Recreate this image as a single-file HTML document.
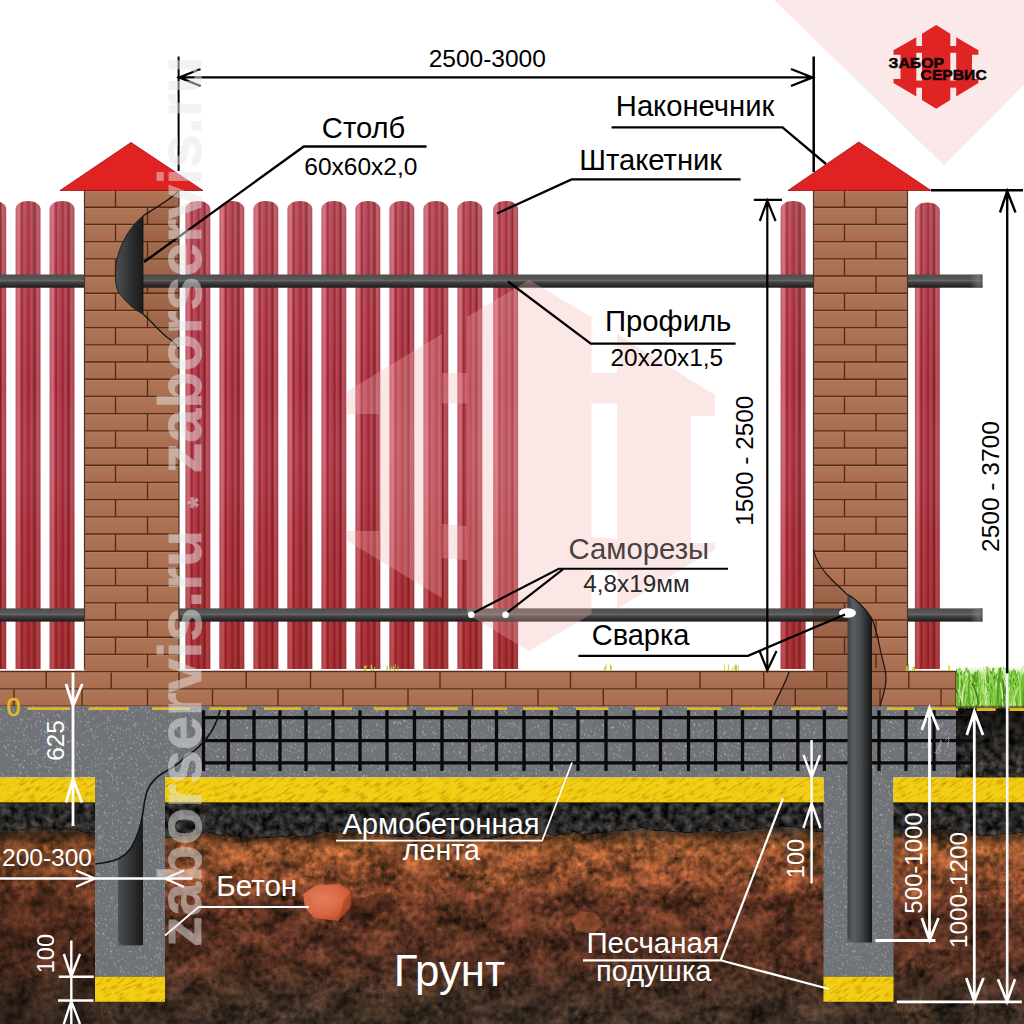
<!DOCTYPE html>
<html lang="ru"><head><meta charset="utf-8"><title>Забор из штакетника — схема</title><style>html,body{margin:0;padding:0;background:#fff;overflow:hidden}svg{display:block}</style></head><body><svg width="1024" height="1024" viewBox="0 0 1024 1024"><defs>
<linearGradient id="pk" x1="0" x2="1" y1="0" y2="0">
 <stop offset="0" stop-color="#b45465"/>
 <stop offset="0.06" stop-color="#c55d6d"/>
 <stop offset="0.14" stop-color="#d96b7a"/>
 <stop offset="0.21" stop-color="#b03c4b"/>
 <stop offset="0.26" stop-color="#8c1c2a"/>
 <stop offset="0.33" stop-color="#c14556"/>
 <stop offset="0.45" stop-color="#aa3747"/>
 <stop offset="0.54" stop-color="#93232f"/>
 <stop offset="0.62" stop-color="#c04556"/>
 <stop offset="0.70" stop-color="#9c3842"/>
 <stop offset="0.78" stop-color="#7e1c26"/>
 <stop offset="0.85" stop-color="#c0505c"/>
 <stop offset="0.95" stop-color="#b04656"/>
 <stop offset="1" stop-color="#9c3c4c"/>
</linearGradient>
<linearGradient id="pkv" x1="0" x2="0" y1="0" y2="1">
 <stop offset="0" stop-color="#ffffff" stop-opacity="0.10"/>
 <stop offset="0.4" stop-color="#ffffff" stop-opacity="0"/>
 <stop offset="0.7" stop-color="#8a1a08" stop-opacity="0.12"/>
 <stop offset="1" stop-color="#8a1a08" stop-opacity="0.34"/>
</linearGradient>
<linearGradient id="rail" x1="0" x2="0" y1="0" y2="1">
 <stop offset="0" stop-color="#4c4c4c"/>
 <stop offset="0.38" stop-color="#5a5a5a"/>
 <stop offset="0.47" stop-color="#6a6a6a"/>
 <stop offset="0.56" stop-color="#464646"/>
 <stop offset="0.8" stop-color="#2e2e2e"/>
 <stop offset="1" stop-color="#1a1a1a"/>
</linearGradient>
<linearGradient id="railend" x1="0" x2="1" y1="0" y2="0">
 <stop offset="0" stop-color="#8a8a8a" stop-opacity="0"/>
 <stop offset="0.7" stop-color="#8a8a8a" stop-opacity="0.55"/>
 <stop offset="1" stop-color="#606060" stop-opacity="0.5"/>
</linearGradient>
<linearGradient id="post" x1="0" x2="1" y1="0" y2="0">
 <stop offset="0" stop-color="#3c3f41"/>
 <stop offset="0.25" stop-color="#5b5e60"/>
 <stop offset="0.55" stop-color="#45484a"/>
 <stop offset="0.85" stop-color="#242526"/>
 <stop offset="1" stop-color="#161717"/>
</linearGradient>
<linearGradient id="postL" x1="0" x2="1" y1="0" y2="0">
 <stop offset="0" stop-color="#4d5052"/>
 <stop offset="0.35" stop-color="#3a3c3e"/>
 <stop offset="0.8" stop-color="#222324"/>
 <stop offset="1" stop-color="#1a1b1b"/>
</linearGradient>
<linearGradient id="brk" x1="0" x2="0" y1="0" y2="1">
 <stop offset="0" stop-color="#b8896a"/>
 <stop offset="0.13" stop-color="#ad7557"/>
 <stop offset="0.85" stop-color="#aa6e50"/>
 <stop offset="1" stop-color="#a86c4c"/>
</linearGradient>
<linearGradient id="soil" x1="0" x2="0" y1="803" y2="1024" gradientUnits="userSpaceOnUse">
 <stop offset="0" stop-color="#262524"/>
 <stop offset="0.11" stop-color="#2c2a28"/>
 <stop offset="0.15" stop-color="#5a3820"/>
 <stop offset="0.19" stop-color="#8e522c"/>
 <stop offset="0.36" stop-color="#884a2c"/>
 <stop offset="0.46" stop-color="#643624"/>
 <stop offset="0.72" stop-color="#543022"/>
 <stop offset="0.86" stop-color="#443024"/>
 <stop offset="1" stop-color="#3a2e24"/>
</linearGradient>
<linearGradient id="soilL" x1="0" x2="1" y1="0" y2="0">
 <stop offset="0" stop-color="#1a0e08" stop-opacity="0.30"/>
 <stop offset="1" stop-color="#1a0e08" stop-opacity="0"/>
</linearGradient>
<radialGradient id="stone" cx="0.4" cy="0.4" r="0.7">
 <stop offset="0" stop-color="#ee8462"/>
 <stop offset="0.6" stop-color="#e06a44"/>
 <stop offset="1" stop-color="#b84a28"/>
</radialGradient>
<linearGradient id="dk" x1="0" x2="0" y1="0" y2="1">
 <stop offset="0" stop-color="#0c0a08" stop-opacity="0.75"/>
 <stop offset="0.45" stop-color="#0c0a08" stop-opacity="0.45"/>
 <stop offset="1" stop-color="#0c0a08" stop-opacity="0"/>
</linearGradient>
<linearGradient id="grassg" x1="0" x2="0" y1="0" y2="1">
 <stop offset="0" stop-color="#9ad65a" stop-opacity="0"/>
 <stop offset="0.2" stop-color="#8ad048" stop-opacity="0.55"/>
 <stop offset="0.38" stop-color="#7cc63c" stop-opacity="1"/>
 <stop offset="0.75" stop-color="#62b02a"/>
 <stop offset="1" stop-color="#4c8a20"/>
</linearGradient>
<filter id="fsoil" x="0" y="0" width="100%" height="100%" color-interpolation-filters="sRGB">
 <feTurbulence type="fractalNoise" baseFrequency="0.03 0.045" numOctaves="3" seed="11" result="n1"/>
 <feTurbulence type="fractalNoise" baseFrequency="0.16" numOctaves="3" seed="4" result="n2"/>
 <feComposite in="n1" in2="n2" operator="arithmetic" k1="0" k2="0.55" k3="0.45" k4="0" result="n"/>
 <feColorMatrix in="n" type="matrix" values="1 0 0 0 0  0.94 0.06 0 0 0  0.92 0 0.08 0 0  0 0 0 0 1" result="g"/>
 <feComposite in="SourceGraphic" in2="g" operator="arithmetic" k1="2.6" k2="-0.32" k3="0" k4="0"/>
</filter>
<filter id="fdark" x="0" y="0" width="100%" height="100%" color-interpolation-filters="sRGB">
 <feTurbulence type="fractalNoise" baseFrequency="0.13" numOctaves="4" seed="5" result="n"/>
 <feColorMatrix in="n" type="matrix" values="1 0 0 0 0  1 0 0 0 0  1 0 0 0 0  0 0 0 0 1" result="g"/>
 <feComposite in="SourceGraphic" in2="g" operator="arithmetic" k1="3.6" k2="-0.7" k3="0" k4="0"/>
</filter>
<filter id="fspeck" x="0" y="0" width="100%" height="100%" color-interpolation-filters="sRGB">
 <feTurbulence type="fractalNoise" baseFrequency="0.95 0.32" numOctaves="3" seed="3" stitchTiles="stitch" result="n"/>
 <feColorMatrix in="n" type="matrix" values="0 0 0 0 1  0 0 0 0 1  0 0 0 0 1  7 0 0 0 -4.35"/>
</filter>
<filter id="fsand" x="0" y="0" width="100%" height="100%" color-interpolation-filters="sRGB">
 <feTurbulence type="fractalNoise" baseFrequency="0.1 0.5" numOctaves="2" seed="8" stitchTiles="stitch" result="n"/>
 <feColorMatrix in="n" type="matrix" values="0 0 0 0 0.80  0 0 0 0 0.60  0 0 0 0 0.03  3.6 0 0 0 -1.85"/>
</filter>
<pattern id="psand" width="200" height="200" patternUnits="userSpaceOnUse" patternTransform="rotate(-32)"><rect width="200" height="200" fill="#000" filter="url(#fsand)"/></pattern>
<pattern id="pspeck" width="200" height="200" patternUnits="userSpaceOnUse" patternTransform="rotate(-27)"><rect width="200" height="200" fill="#fff" filter="url(#fspeck)"/></pattern>
<clipPath id="csand"><path d="M0 777.5H95V802.8H0Z M165 777.5H823.5V802.8H165Z M893.5 777.5H1024V802.8H893.5Z M95 976.8H165V1001.8H95Z M823.5 976.8H893.5V1001.8H823.5Z"/></clipPath>
<clipPath id="cconc"><path d="M0 706H956V777.5H893.5V976.8H823.5V777.5H165V976.8H95V777.5H0Z"/></clipPath>
<g id="logo">
 <path d="M916.3 37.3L893.5 50.2V54.8H900.5V78.9H893.5V83L916.3 96.4Z"/>
 <path d="M922 33.7L936.2 25L950.3 33.7V100L936.2 108.8L922 100Z"/>
 <path d="M956.2 37.3L978.4 50.2V54.8H972V78.9H978.4V83L956.2 96.4Z"/>
 <rect x="915" y="46" width="43" height="6.8"/>
 <rect x="915" y="80.6" width="43" height="7.1"/>
</g>
</defs>
<rect width="1024" height="1024" fill="#ffffff"/>
<path d="M774 0L944 165.5L1024 85V0Z" fill="#fbe9e9"/>
<path d="M-18.70 669.0V209.50C-18.70 203.97 -13.10 201.00 -6.25 201.00C0.60 201.00 6.20 203.97 6.20 209.50V669.0Z" fill="url(#pk)"/>
<path d="M-18.70 669.0V209.50C-18.70 203.97 -13.10 201.00 -6.25 201.00C0.60 201.00 6.20 203.97 6.20 209.50V669.0Z" fill="url(#pkv)"/>
<path d="M15.60 669.0V209.50C15.60 203.97 21.20 201.00 28.05 201.00C34.90 201.00 40.50 203.97 40.50 209.50V669.0Z" fill="url(#pk)"/>
<path d="M15.60 669.0V209.50C15.60 203.97 21.20 201.00 28.05 201.00C34.90 201.00 40.50 203.97 40.50 209.50V669.0Z" fill="url(#pkv)"/>
<path d="M49.60 669.0V209.50C49.60 203.97 55.20 201.00 62.05 201.00C68.90 201.00 74.50 203.97 74.50 209.50V669.0Z" fill="url(#pk)"/>
<path d="M49.60 669.0V209.50C49.60 203.97 55.20 201.00 62.05 201.00C68.90 201.00 74.50 203.97 74.50 209.50V669.0Z" fill="url(#pkv)"/>
<path d="M185.40 669.0V209.50C185.40 203.97 191.00 201.00 197.85 201.00C204.70 201.00 210.30 203.97 210.30 209.50V669.0Z" fill="url(#pk)"/>
<path d="M185.40 669.0V209.50C185.40 203.97 191.00 201.00 197.85 201.00C204.70 201.00 210.30 203.97 210.30 209.50V669.0Z" fill="url(#pkv)"/>
<path d="M219.40 669.0V209.50C219.40 203.97 225.00 201.00 231.85 201.00C238.70 201.00 244.30 203.97 244.30 209.50V669.0Z" fill="url(#pk)"/>
<path d="M219.40 669.0V209.50C219.40 203.97 225.00 201.00 231.85 201.00C238.70 201.00 244.30 203.97 244.30 209.50V669.0Z" fill="url(#pkv)"/>
<path d="M253.40 669.0V209.50C253.40 203.97 259.00 201.00 265.85 201.00C272.70 201.00 278.30 203.97 278.30 209.50V669.0Z" fill="url(#pk)"/>
<path d="M253.40 669.0V209.50C253.40 203.97 259.00 201.00 265.85 201.00C272.70 201.00 278.30 203.97 278.30 209.50V669.0Z" fill="url(#pkv)"/>
<path d="M287.40 669.0V209.50C287.40 203.97 293.00 201.00 299.85 201.00C306.70 201.00 312.30 203.97 312.30 209.50V669.0Z" fill="url(#pk)"/>
<path d="M287.40 669.0V209.50C287.40 203.97 293.00 201.00 299.85 201.00C306.70 201.00 312.30 203.97 312.30 209.50V669.0Z" fill="url(#pkv)"/>
<path d="M321.40 669.0V209.50C321.40 203.97 327.00 201.00 333.85 201.00C340.70 201.00 346.30 203.97 346.30 209.50V669.0Z" fill="url(#pk)"/>
<path d="M321.40 669.0V209.50C321.40 203.97 327.00 201.00 333.85 201.00C340.70 201.00 346.30 203.97 346.30 209.50V669.0Z" fill="url(#pkv)"/>
<path d="M355.40 669.0V209.50C355.40 203.97 361.00 201.00 367.85 201.00C374.70 201.00 380.30 203.97 380.30 209.50V669.0Z" fill="url(#pk)"/>
<path d="M355.40 669.0V209.50C355.40 203.97 361.00 201.00 367.85 201.00C374.70 201.00 380.30 203.97 380.30 209.50V669.0Z" fill="url(#pkv)"/>
<path d="M389.40 669.0V209.50C389.40 203.97 395.00 201.00 401.85 201.00C408.70 201.00 414.30 203.97 414.30 209.50V669.0Z" fill="url(#pk)"/>
<path d="M389.40 669.0V209.50C389.40 203.97 395.00 201.00 401.85 201.00C408.70 201.00 414.30 203.97 414.30 209.50V669.0Z" fill="url(#pkv)"/>
<path d="M423.40 669.0V209.50C423.40 203.97 429.00 201.00 435.85 201.00C442.70 201.00 448.30 203.97 448.30 209.50V669.0Z" fill="url(#pk)"/>
<path d="M423.40 669.0V209.50C423.40 203.97 429.00 201.00 435.85 201.00C442.70 201.00 448.30 203.97 448.30 209.50V669.0Z" fill="url(#pkv)"/>
<path d="M457.40 669.0V209.50C457.40 203.97 463.00 201.00 469.85 201.00C476.70 201.00 482.30 203.97 482.30 209.50V669.0Z" fill="url(#pk)"/>
<path d="M457.40 669.0V209.50C457.40 203.97 463.00 201.00 469.85 201.00C476.70 201.00 482.30 203.97 482.30 209.50V669.0Z" fill="url(#pkv)"/>
<path d="M493.20 669.0V209.50C493.20 203.97 498.80 201.00 505.65 201.00C512.50 201.00 518.10 203.97 518.10 209.50V669.0Z" fill="url(#pk)"/>
<path d="M493.20 669.0V209.50C493.20 203.97 498.80 201.00 505.65 201.00C512.50 201.00 518.10 203.97 518.10 209.50V669.0Z" fill="url(#pkv)"/>
<path d="M780.60 669.0V209.50C780.60 203.97 786.20 201.00 793.05 201.00C799.90 201.00 805.50 203.97 805.50 209.50V669.0Z" fill="url(#pk)"/>
<path d="M780.60 669.0V209.50C780.60 203.97 786.20 201.00 793.05 201.00C799.90 201.00 805.50 203.97 805.50 209.50V669.0Z" fill="url(#pkv)"/>
<path d="M914.90 669.0V211.00C914.90 205.47 920.50 202.50 927.35 202.50C934.20 202.50 939.80 205.47 939.80 211.00V669.0Z" fill="url(#pk)"/>
<path d="M914.90 669.0V211.00C914.90 205.47 920.50 202.50 927.35 202.50C934.20 202.50 939.80 205.47 939.80 211.00V669.0Z" fill="url(#pkv)"/>
<rect x="0" y="274.5" width="982.5" height="13.2" fill="url(#rail)"/>
<rect x="0" y="608.4" width="982.5" height="13.2" fill="url(#rail)"/>
<rect x="970" y="274.5" width="12.5" height="13.2" fill="url(#railend)"/>
<rect x="970" y="608.4" width="12.5" height="13.2" fill="url(#railend)"/>
<g fill="#f8b2b2" opacity="0.30"><path d="M467 317L529 280L591.5 317V614L529 651L467 614Z"/><path d="M442 334L346 392V414H379V531H346V540L442 598Z"/><path d="M617 334L715 395V416H691V543H715V549L617 609Z"/><path d="M442 373H617V403.5H442Z"/><path d="M442 524L617 539V572L442 558Z"/></g>
<rect x="84.5" y="190.0" width="94.5" height="481.0" fill="#aa6e50"/>
<rect x="84.5" y="190.00" width="94.5" height="17.20" fill="url(#brk)"/>
<rect x="84.5" y="207.20" width="94.5" height="17.20" fill="url(#brk)"/>
<rect x="84.5" y="224.40" width="94.5" height="17.20" fill="url(#brk)"/>
<rect x="84.5" y="241.60" width="94.5" height="17.20" fill="url(#brk)"/>
<rect x="84.5" y="258.80" width="94.5" height="17.20" fill="url(#brk)"/>
<rect x="84.5" y="276.00" width="94.5" height="17.20" fill="url(#brk)"/>
<rect x="84.5" y="293.20" width="94.5" height="17.20" fill="url(#brk)"/>
<rect x="84.5" y="310.40" width="94.5" height="17.20" fill="url(#brk)"/>
<rect x="84.5" y="327.60" width="94.5" height="17.20" fill="url(#brk)"/>
<rect x="84.5" y="344.80" width="94.5" height="17.20" fill="url(#brk)"/>
<rect x="84.5" y="362.00" width="94.5" height="17.20" fill="url(#brk)"/>
<rect x="84.5" y="379.20" width="94.5" height="17.20" fill="url(#brk)"/>
<rect x="84.5" y="396.40" width="94.5" height="17.20" fill="url(#brk)"/>
<rect x="84.5" y="413.60" width="94.5" height="17.20" fill="url(#brk)"/>
<rect x="84.5" y="430.80" width="94.5" height="17.20" fill="url(#brk)"/>
<rect x="84.5" y="448.00" width="94.5" height="17.20" fill="url(#brk)"/>
<rect x="84.5" y="465.20" width="94.5" height="17.20" fill="url(#brk)"/>
<rect x="84.5" y="482.40" width="94.5" height="17.20" fill="url(#brk)"/>
<rect x="84.5" y="499.60" width="94.5" height="17.20" fill="url(#brk)"/>
<rect x="84.5" y="516.80" width="94.5" height="17.20" fill="url(#brk)"/>
<rect x="84.5" y="534.00" width="94.5" height="17.20" fill="url(#brk)"/>
<rect x="84.5" y="551.20" width="94.5" height="17.20" fill="url(#brk)"/>
<rect x="84.5" y="568.40" width="94.5" height="17.20" fill="url(#brk)"/>
<rect x="84.5" y="585.60" width="94.5" height="17.20" fill="url(#brk)"/>
<rect x="84.5" y="602.80" width="94.5" height="17.20" fill="url(#brk)"/>
<rect x="84.5" y="620.00" width="94.5" height="17.20" fill="url(#brk)"/>
<rect x="84.5" y="637.20" width="94.5" height="17.20" fill="url(#brk)"/>
<rect x="84.5" y="654.40" width="94.5" height="16.60" fill="url(#brk)"/>
<path d="M84.5 190.00H179.0M84.5 207.20H179.0M84.5 224.40H179.0M84.5 241.60H179.0M84.5 258.80H179.0M84.5 276.00H179.0M84.5 293.20H179.0M84.5 310.40H179.0M84.5 327.60H179.0M84.5 344.80H179.0M84.5 362.00H179.0M84.5 379.20H179.0M84.5 396.40H179.0M84.5 413.60H179.0M84.5 430.80H179.0M84.5 448.00H179.0M84.5 465.20H179.0M84.5 482.40H179.0M84.5 499.60H179.0M84.5 516.80H179.0M84.5 534.00H179.0M84.5 551.20H179.0M84.5 568.40H179.0M84.5 585.60H179.0M84.5 602.80H179.0M84.5 620.00H179.0M84.5 637.20H179.0M84.5 654.40H179.0M115.50 190.00v17.20M147.50 207.20v17.20M115.50 224.40v17.20M147.50 241.60v17.20M115.50 258.80v17.20M147.50 276.00v17.20M115.50 293.20v17.20M147.50 310.40v17.20M115.50 327.60v17.20M147.50 344.80v17.20M115.50 362.00v17.20M147.50 379.20v17.20M115.50 396.40v17.20M147.50 413.60v17.20M115.50 430.80v17.20M147.50 448.00v17.20M115.50 465.20v17.20M147.50 482.40v17.20M115.50 499.60v17.20M147.50 516.80v17.20M115.50 534.00v17.20M147.50 551.20v17.20M115.50 568.40v17.20M147.50 585.60v17.20M115.50 602.80v17.20M147.50 620.00v17.20M115.50 637.20v17.20M147.50 654.40v16.60" stroke="#5a2a14" stroke-width="1.35" fill="none"/>
<path d="M84.5 190.0V671.0M179.0 190.0V671.0" stroke="#4a352c" stroke-width="1.2" fill="none"/>
<rect x="813.5" y="190.0" width="94.0" height="481.0" fill="#aa6e50"/>
<rect x="813.5" y="190.00" width="94.0" height="17.20" fill="url(#brk)"/>
<rect x="813.5" y="207.20" width="94.0" height="17.20" fill="url(#brk)"/>
<rect x="813.5" y="224.40" width="94.0" height="17.20" fill="url(#brk)"/>
<rect x="813.5" y="241.60" width="94.0" height="17.20" fill="url(#brk)"/>
<rect x="813.5" y="258.80" width="94.0" height="17.20" fill="url(#brk)"/>
<rect x="813.5" y="276.00" width="94.0" height="17.20" fill="url(#brk)"/>
<rect x="813.5" y="293.20" width="94.0" height="17.20" fill="url(#brk)"/>
<rect x="813.5" y="310.40" width="94.0" height="17.20" fill="url(#brk)"/>
<rect x="813.5" y="327.60" width="94.0" height="17.20" fill="url(#brk)"/>
<rect x="813.5" y="344.80" width="94.0" height="17.20" fill="url(#brk)"/>
<rect x="813.5" y="362.00" width="94.0" height="17.20" fill="url(#brk)"/>
<rect x="813.5" y="379.20" width="94.0" height="17.20" fill="url(#brk)"/>
<rect x="813.5" y="396.40" width="94.0" height="17.20" fill="url(#brk)"/>
<rect x="813.5" y="413.60" width="94.0" height="17.20" fill="url(#brk)"/>
<rect x="813.5" y="430.80" width="94.0" height="17.20" fill="url(#brk)"/>
<rect x="813.5" y="448.00" width="94.0" height="17.20" fill="url(#brk)"/>
<rect x="813.5" y="465.20" width="94.0" height="17.20" fill="url(#brk)"/>
<rect x="813.5" y="482.40" width="94.0" height="17.20" fill="url(#brk)"/>
<rect x="813.5" y="499.60" width="94.0" height="17.20" fill="url(#brk)"/>
<rect x="813.5" y="516.80" width="94.0" height="17.20" fill="url(#brk)"/>
<rect x="813.5" y="534.00" width="94.0" height="17.20" fill="url(#brk)"/>
<rect x="813.5" y="551.20" width="94.0" height="17.20" fill="url(#brk)"/>
<rect x="813.5" y="568.40" width="94.0" height="17.20" fill="url(#brk)"/>
<rect x="813.5" y="585.60" width="94.0" height="17.20" fill="url(#brk)"/>
<rect x="813.5" y="602.80" width="94.0" height="17.20" fill="url(#brk)"/>
<rect x="813.5" y="620.00" width="94.0" height="17.20" fill="url(#brk)"/>
<rect x="813.5" y="637.20" width="94.0" height="17.20" fill="url(#brk)"/>
<rect x="813.5" y="654.40" width="94.0" height="16.60" fill="url(#brk)"/>
<path d="M813.5 190.00H907.5M813.5 207.20H907.5M813.5 224.40H907.5M813.5 241.60H907.5M813.5 258.80H907.5M813.5 276.00H907.5M813.5 293.20H907.5M813.5 310.40H907.5M813.5 327.60H907.5M813.5 344.80H907.5M813.5 362.00H907.5M813.5 379.20H907.5M813.5 396.40H907.5M813.5 413.60H907.5M813.5 430.80H907.5M813.5 448.00H907.5M813.5 465.20H907.5M813.5 482.40H907.5M813.5 499.60H907.5M813.5 516.80H907.5M813.5 534.00H907.5M813.5 551.20H907.5M813.5 568.40H907.5M813.5 585.60H907.5M813.5 602.80H907.5M813.5 620.00H907.5M813.5 637.20H907.5M813.5 654.40H907.5M844.50 190.00v17.20M876.00 207.20v17.20M844.50 224.40v17.20M876.00 241.60v17.20M844.50 258.80v17.20M876.00 276.00v17.20M844.50 293.20v17.20M876.00 310.40v17.20M844.50 327.60v17.20M876.00 344.80v17.20M844.50 362.00v17.20M876.00 379.20v17.20M844.50 396.40v17.20M876.00 413.60v17.20M844.50 430.80v17.20M876.00 448.00v17.20M844.50 465.20v17.20M876.00 482.40v17.20M844.50 499.60v17.20M876.00 516.80v17.20M844.50 534.00v17.20M876.00 551.20v17.20M844.50 568.40v17.20M876.00 585.60v17.20M844.50 602.80v17.20M876.00 620.00v17.20M844.50 637.20v17.20M876.00 654.40v16.60" stroke="#5a2a14" stroke-width="1.35" fill="none"/>
<path d="M813.5 190.0V671.0M907.5 190.0V671.0" stroke="#4a352c" stroke-width="1.2" fill="none"/>
<rect x="143" y="274.5" width="37" height="13.2" fill="url(#rail)"/>
<rect x="813" y="608.4" width="36" height="13.2" fill="url(#rail)"/>
<path d="M178.5 191C170 200 158 206 143 216V314C152 322 160 332 168 338C173 341 176 345 178.5 349Z" fill="#3a1404" opacity="0.10"/>
<path d="M143 216C128 228 116 250 115.5 272C115 284 117 290 119 293C126 302 134 310 143 314Z" fill="url(#postL)" stroke="#111" stroke-width="0.8"/>
<path d="M178.5 191C170 200 158 206 143 216" stroke="#141414" stroke-width="1.2" fill="none"/>
<path d="M143 314C152 322 160 332 168 338C173 341 176 345 178.5 349" stroke="#141414" stroke-width="1.2" fill="none"/>
<path d="M60 190.5L131 142.5L203 190.5Z" fill="#e02222" stroke="#9c1010" stroke-width="0.8"/>
<path d="M788 190.5L858.8 142L931 190.5Z" fill="#e02222" stroke="#9c1010" stroke-width="0.8"/>
<rect x="0" y="670" width="956" height="2" fill="#ffffff"/>
<rect x="0" y="671.5" width="956" height="17.3" fill="url(#brk)"/>
<rect x="0" y="688.8" width="956" height="17.4" fill="url(#brk)"/>
<path d="M0 671.5H956M0 688.8H956M0 706.2H956M956 671.5V706.2M46.2 671.5V688.8M111.2 671.5V688.8M179.0 671.5V688.8M246.2 671.5V688.8M310.5 671.5V688.8M375.5 671.5V688.8M440.0 671.5V688.8M505.6 671.5V688.8M570.5 671.5V688.8M636.0 671.5V688.8M700.0 671.5V688.8M763.8 671.5V688.8M826.7 671.5V688.8M908.8 671.5V688.8M14.0 688.8V706.2M82.0 688.8V706.2M147.5 688.8V706.2M212.5 688.8V706.2M278.0 688.8V706.2M343.0 688.8V706.2M408.0 688.8V706.2M472.5 688.8V706.2M538.0 688.8V706.2M603.3 688.8V706.2M667.2 688.8V706.2M731.8 688.8V706.2M795.3 688.8V706.2M880.0 688.8V706.2M941.0 688.8V706.2" stroke="#5a2a14" stroke-width="1.35" fill="none"/>
<rect x="84.5" y="668" width="94.5" height="4.5" fill="#aa6e50"/>
<rect x="813.5" y="668" width="94" height="4.5" fill="#aa6e50"/>
<path d="M84.5 671.5H179M813.5 671.5H907.5" stroke="#5e2c14" stroke-width="1"/>
<rect x="0" y="802" width="1024" height="222" fill="url(#soil)" filter="url(#fsoil)"/>
<rect x="0" y="832" width="200" height="192" fill="url(#soilL)"/>
<rect x="956" y="706" width="68" height="72" fill="#2a2826" filter="url(#fdark)"/>
<rect x="956" y="706" width="68" height="60" fill="url(#dk)"/>
<path d="M0 802.8H1024V832.0L1016.0 833.3L1002.4 833.2L993.8 835.2L978.1 835.3L966.1 833.5L960.0 832.6L947.0 829.6L931.5 827.7L922.7 826.0L904.7 827.7L888.2 828.5L881.8 827.3L869.8 826.0L852.4 826.0L844.5 828.2L837.0 831.2L825.6 831.6L815.5 831.5L807.2 828.2L790.9 826.4L775.5 826.0L757.9 828.8L742.8 830.6L729.8 832.2L722.4 832.0L706.4 829.9L689.4 832.7L678.5 831.7L667.0 830.9L649.1 830.1L642.8 827.3L628.2 830.7L616.2 830.7L603.6 832.4L594.9 833.2L582.3 834.0L574.1 831.7L563.9 834.7L553.8 835.4L544.1 832.6L537.3 834.8L522.0 833.9L507.8 835.2L491.0 838.4L480.1 839.0L462.6 839.0L446.0 838.9L435.5 837.2L418.9 834.8L412.1 836.9L396.8 836.8L380.8 833.7L371.7 832.2L360.6 829.9L353.8 828.8L337.0 832.2L322.1 832.0L313.0 835.2L300.7 836.8L294.4 834.8L278.3 836.9L261.8 837.6L250.7 838.2L234.5 836.8L222.0 835.2L206.8 831.8L192.6 835.0L186.3 835.6L172.6 838.1L159.6 836.4L148.7 839.0L131.8 836.4L124.7 833.6L118.4 833.2L110.7 835.8L96.9 833.2L84.4 831.9L72.5 830.0L64.5 827.8L53.9 829.2L41.3 826.1L26.8 828.7L11.5 830.7L5.4 830.5L0.0 832.3Z" fill="#262524" filter="url(#fdark)" opacity="0.92"/>
<path d="M303 894L316 885L340 884L351 892L350 908L338 921L314 918L305 908Z" fill="url(#stone)" opacity="0.92"/>
<path d="M571 919L580 911L596 913L604 924L593 934L577 931Z" fill="#d8703f" opacity="0.38"/>
<path d="M652 848L664 843L676 849L674 861L660 864Z" fill="#dc7a4a" opacity="0.34"/>
<path d="M352 900L380 893L392 905L372 922L350 918Z" fill="#1c0c06" opacity="0.35"/>
<path d="M338 921L350 908L351 892L344 900Z" fill="#7a2c14" opacity="0.35"/>
<path d="M0 706H956V777.5H893.5V976.8H823.5V777.5H165V976.8H95V777.5H0Z" fill="#6f7276"/>
<path d="M0 706H956V777.5H893.5V976.8H823.5V777.5H165V976.8H95V777.5H0Z" fill="url(#pspeck)" opacity="0.40"/>
<path d="M0 777.5H95V802.8H0Z M165 777.5H823.5V802.8H165Z M893.5 777.5H1024V802.8H893.5Z M95 976.8H165V1001.8H95Z M823.5 976.8H893.5V1001.8H823.5Z" fill="#f2ce14"/>
<path d="M0 777.5H95V802.8H0Z M165 777.5H823.5V802.8H165Z M893.5 777.5H1024V802.8H893.5Z M95 976.8H165V1001.8H95Z M823.5 976.8H893.5V1001.8H823.5Z" fill="url(#psand)"/>
<path d="M0 802.8H95M165 802.8H823.5M893.5 802.8H1024" stroke="#1c1a10" stroke-width="1.2" opacity="0.7"/>
<path d="M27.5 708.6H70M88.7 708.6H128.7M152 708.6H190M209.5 708.6H247M264 708.6H301M320 708.6H352M374 708.6H407M425 708.6H458M474 708.6H507M523 708.6H558M576 708.6H608.5M635 708.6H660M687 708.6H721.4M740.6 708.6H772M791 708.6H821M837.7 708.6H867.7M887 708.6H914M930.6 708.6H956.6M976.7 708.6H995.5M1009.5 708.6H1024" stroke="#e4b62c" stroke-width="2.7" fill="none"/>
<path d="M203.5 710.3V771M228.3 710.3V771M254 710.3V771M280 710.3V771M306 710.3V771M333 710.3V771M360 710.3V771M387 710.3V771M414.5 710.3V771M442 710.3V771M469.4 710.3V771M496.5 710.3V771M524 710.3V771M551.3 710.3V771M578 710.3V771M606 710.3V771M634 710.3V771M660.5 710.3V771M688.5 710.3V771M715.6 710.3V771M742.5 710.3V771M770.6 710.3V771M797.8 710.3V771M824.4 710.3V771M851.5 710.3V771M879 710.3V771M906 710.3V771M934 710.3V771M202 717.6H975M202 740.7H975M202 762.8H975" stroke="#0a0a0a" stroke-width="3.3" fill="none"/>
<path d="M143 815C141 826 137 838 131 848C127 853 122 857 118 859V945.5H143Z" fill="url(#postL)"/>
<path d="M118 939Q119 945 126 945.5H118Z" fill="#6a6d6f" opacity="0.5"/>
<path d="M220 710C218 720 214 727 211 732C206 740 200 746 194 751C190 754 184 757 181 761C176 766 168 770 163 773C156 777 151 783 148 789C145 796 144 804 143 812C141 826 137 838 131 848C127 853 122 857 118 859C111 862 104 863 95.5 864" stroke="#121314" stroke-width="1.6" fill="none"/>
<path d="M813.5 550C816 562 824 572 832 580C838 586 843 590 847.5 595L872 619C876 628 878 638 880 648C882 660 886 668 886 678C886 690 882 698 880 706H774C780 692 786 682 789 672H813.5Z" fill="#3a1404" opacity="0.13"/>
<path d="M847.5 594.5C855 598 866 609 872 618.5V942.5H847.5Z" fill="url(#post)"/>
<path d="M847.5 594.5C855 598 866 609 872 618.5" stroke="#141414" stroke-width="1.1" fill="none"/>
<path d="M847.5 936Q849 942 856 942.5H847.5Z" fill="#808386" opacity="0.45"/>
<path d="M813.5 550C816 562 824 572 832 580C838 586 843 590 847.5 595" stroke="#141414" stroke-width="1.2" fill="none"/>
<path d="M872 619C876 628 878 638 880 648C882 660 886 668 886 678C886 690 882 698 880 706" stroke="#141414" stroke-width="1.2" fill="none"/>
<path d="M789 672C786 682 780 692 774 705" stroke="#141414" stroke-width="1.2" fill="none"/>
<ellipse cx="847.5" cy="613" rx="8.5" ry="4.8" fill="#ffffff"/>
<rect x="956" y="666" width="68" height="41.5" fill="url(#grassg)"/>
<clipPath id="cgr"><rect x="956" y="640" width="68" height="68.5"/></clipPath>
<g clip-path="url(#cgr)" fill="none" stroke-linecap="round"><path d="M978.0 706.8q-1.2 -15.8 -7.7 -26.3" stroke="#cdeaa0" stroke-width="0.90"/><path d="M997.1 700.7q-1.1 -9.2 -7.5 -15.4" stroke="#b9e486" stroke-width="0.88"/><path d="M960.7 704.6q-1.0 -18.4 -6.8 -30.7" stroke="#a6dc6a" stroke-width="1.49"/><path d="M997.1 707.5q-1.2 -14.8 -8.1 -24.6" stroke="#a6dc6a" stroke-width="0.85"/><path d="M1017.5 705.7q-1.0 -8.2 -6.9 -13.6" stroke="#3f7f18" stroke-width="1.42"/><path d="M1004.5 707.2q-0.8 -14.6 -5.6 -24.3" stroke="#69b82e" stroke-width="1.40"/><path d="M958.6 707.5q0.5 -9.1 3.2 -15.1" stroke="#b9e486" stroke-width="1.65"/><path d="M988.5 700.6q-0.7 -11.4 -4.5 -19.0" stroke="#86cc48" stroke-width="1.57"/><path d="M972.1 703.4q1.0 -13.9 6.8 -23.1" stroke="#62b02a" stroke-width="1.29"/><path d="M999.1 707.4q-0.9 -13.7 -6.0 -22.8" stroke="#74c236" stroke-width="0.97"/><path d="M990.2 707.7q0.7 -16.0 4.8 -26.7" stroke="#7fca3e" stroke-width="1.67"/><path d="M1014.6 705.3q-0.0 -11.3 -0.1 -18.8" stroke="#5aa826" stroke-width="0.88"/><path d="M960.9 705.8q-1.2 -16.5 -7.8 -27.4" stroke="#62b02a" stroke-width="1.57"/><path d="M1001.9 700.1q-0.6 -18.3 -3.9 -30.5" stroke="#b9e486" stroke-width="1.78"/><path d="M979.7 700.5q0.3 -11.3 2.0 -18.9" stroke="#5aa826" stroke-width="0.86"/><path d="M1010.8 707.0q-0.3 -9.7 -2.0 -16.2" stroke="#5aa826" stroke-width="0.89"/><path d="M987.2 703.6q0.9 -19.3 5.7 -32.1" stroke="#cdeaa0" stroke-width="1.11"/><path d="M984.7 705.1q1.2 -19.3 8.2 -32.1" stroke="#86cc48" stroke-width="0.89"/><path d="M965.2 702.7q0.9 -6.2 6.0 -10.3" stroke="#86cc48" stroke-width="1.09"/><path d="M954.3 704.6q0.2 -11.5 1.2 -19.2" stroke="#86cc48" stroke-width="1.56"/><path d="M992.1 703.1q-1.2 -16.1 -8.0 -26.9" stroke="#93d456" stroke-width="1.68"/><path d="M983.0 704.8q0.4 -7.6 2.4 -12.6" stroke="#4f9a1e" stroke-width="1.01"/><path d="M1026.9 704.5q0.3 -7.6 1.8 -12.7" stroke="#69b82e" stroke-width="0.80"/><path d="M965.2 707.2q-1.3 -11.5 -8.5 -19.1" stroke="#a6dc6a" stroke-width="1.48"/><path d="M965.0 706.0q-0.4 -11.2 -2.4 -18.7" stroke="#69b82e" stroke-width="0.93"/><path d="M990.1 700.2q-0.5 -13.2 -3.4 -22.0" stroke="#86cc48" stroke-width="0.91"/><path d="M979.4 705.9q-0.9 -18.4 -6.1 -30.7" stroke="#4f9a1e" stroke-width="1.03"/><path d="M1024.4 705.1q1.1 -16.4 7.5 -27.3" stroke="#cdeaa0" stroke-width="1.13"/><path d="M1001.6 707.3q0.0 -18.7 0.3 -31.1" stroke="#86cc48" stroke-width="1.19"/><path d="M970.5 703.7q0.4 -13.5 2.5 -22.6" stroke="#7fca3e" stroke-width="1.69"/><path d="M1026.9 701.2q0.9 -18.1 5.7 -30.2" stroke="#62b02a" stroke-width="1.68"/><path d="M968.8 704.1q1.3 -17.0 8.8 -28.3" stroke="#3f7f18" stroke-width="1.32"/><path d="M968.3 703.2q0.8 -11.2 5.6 -18.6" stroke="#62b02a" stroke-width="1.89"/><path d="M1024.7 705.1q-0.7 -9.3 -4.9 -15.5" stroke="#a6dc6a" stroke-width="1.17"/><path d="M989.7 700.1q-1.3 -15.2 -9.0 -25.3" stroke="#93d456" stroke-width="1.18"/><path d="M1001.6 701.3q-0.3 -7.8 -2.0 -13.0" stroke="#62b02a" stroke-width="1.63"/><path d="M989.4 706.6q-0.5 -17.8 -3.0 -29.7" stroke="#62b02a" stroke-width="1.24"/><path d="M983.7 700.4q-0.9 -16.9 -5.9 -28.1" stroke="#86cc48" stroke-width="0.83"/><path d="M997.7 704.3q0.3 -15.8 2.0 -26.4" stroke="#7fca3e" stroke-width="1.88"/><path d="M1002.6 705.2q-1.0 -14.2 -6.6 -23.7" stroke="#4f9a1e" stroke-width="1.68"/><path d="M1007.8 707.2q-1.0 -17.2 -6.5 -28.7" stroke="#a6dc6a" stroke-width="1.71"/><path d="M969.6 706.0q-0.7 -10.4 -4.7 -17.3" stroke="#7fca3e" stroke-width="1.16"/><path d="M994.3 701.3q0.6 -6.9 4.3 -11.5" stroke="#5aa826" stroke-width="1.53"/><path d="M1014.3 703.9q1.0 -18.4 6.8 -30.7" stroke="#86cc48" stroke-width="1.39"/><path d="M992.7 707.9q-0.9 -12.6 -5.7 -21.0" stroke="#4f9a1e" stroke-width="1.65"/><path d="M965.1 706.9q-1.0 -15.3 -6.8 -25.5" stroke="#4f9a1e" stroke-width="1.16"/><path d="M992.4 703.6q-1.1 -17.8 -7.1 -29.6" stroke="#cdeaa0" stroke-width="0.86"/><path d="M968.2 707.7q-0.1 -7.5 -0.9 -12.4" stroke="#4f9a1e" stroke-width="1.64"/><path d="M1021.5 704.5q0.0 -15.2 0.1 -25.3" stroke="#cdeaa0" stroke-width="1.02"/><path d="M974.5 703.9q0.0 -18.1 0.1 -30.2" stroke="#a6dc6a" stroke-width="1.57"/><path d="M1018.9 700.5q0.2 -9.9 1.1 -16.5" stroke="#a6dc6a" stroke-width="1.72"/><path d="M964.1 707.0q-1.2 -12.6 -7.7 -21.1" stroke="#a6dc6a" stroke-width="1.27"/><path d="M969.7 705.6q0.7 -7.8 5.0 -13.1" stroke="#62b02a" stroke-width="1.51"/><path d="M981.1 706.0q-0.1 -8.1 -0.6 -13.4" stroke="#62b02a" stroke-width="1.85"/><path d="M983.5 704.1q0.9 -20.8 6.0 -34.7" stroke="#86cc48" stroke-width="1.58"/><path d="M1027.6 704.8q-0.4 -12.3 -2.6 -20.5" stroke="#69b82e" stroke-width="1.59"/><path d="M955.4 703.6q-1.3 -12.6 -8.7 -21.0" stroke="#74c236" stroke-width="1.37"/><path d="M975.9 700.3q1.1 -7.7 7.5 -12.8" stroke="#a6dc6a" stroke-width="1.87"/><path d="M961.8 705.9q0.8 -6.6 5.0 -11.0" stroke="#3f7f18" stroke-width="1.63"/><path d="M1014.7 701.2q1.2 -16.1 8.0 -26.9" stroke="#b9e486" stroke-width="0.96"/><path d="M1022.0 703.4q-1.1 -16.5 -7.4 -27.5" stroke="#4f9a1e" stroke-width="1.68"/><path d="M967.6 700.8q-1.3 -10.0 -8.7 -16.7" stroke="#69b82e" stroke-width="1.68"/><path d="M960.2 701.2q1.0 -7.0 6.5 -11.7" stroke="#5aa826" stroke-width="0.81"/><path d="M1027.6 704.7q0.3 -19.7 2.2 -32.9" stroke="#4f9a1e" stroke-width="1.38"/><path d="M971.6 707.1q-1.2 -8.4 -8.1 -14.0" stroke="#a6dc6a" stroke-width="1.83"/><path d="M1000.5 703.8q-0.1 -9.1 -1.0 -15.1" stroke="#93d456" stroke-width="1.00"/><path d="M979.7 707.9q-1.3 -9.8 -8.7 -16.3" stroke="#62b02a" stroke-width="1.36"/><path d="M1026.4 703.9q-0.1 -9.7 -1.0 -16.1" stroke="#93d456" stroke-width="1.70"/><path d="M986.0 704.0q-0.3 -18.5 -1.9 -30.9" stroke="#cdeaa0" stroke-width="1.14"/><path d="M969.9 706.2q1.0 -9.0 6.9 -15.0" stroke="#62b02a" stroke-width="1.50"/><path d="M983.9 705.2q-1.0 -6.8 -6.7 -11.4" stroke="#69b82e" stroke-width="1.49"/><path d="M1019.1 704.6q0.4 -6.8 3.0 -11.4" stroke="#b9e486" stroke-width="1.76"/><path d="M1003.6 705.7q-0.6 -9.6 -3.7 -16.1" stroke="#5aa826" stroke-width="1.00"/><path d="M973.9 708.0q-0.5 -11.5 -3.1 -19.1" stroke="#cdeaa0" stroke-width="1.16"/><path d="M956.5 700.9q-0.9 -9.3 -5.7 -15.4" stroke="#74c236" stroke-width="1.22"/><path d="M989.1 704.0q0.0 -9.0 0.1 -15.0" stroke="#4f9a1e" stroke-width="0.90"/><path d="M1014.5 706.8q-0.3 -14.8 -1.9 -24.7" stroke="#3f7f18" stroke-width="1.13"/><path d="M971.2 703.3q0.7 -13.9 4.5 -23.2" stroke="#93d456" stroke-width="1.78"/><path d="M1012.0 703.2q0.6 -17.5 4.0 -29.1" stroke="#5aa826" stroke-width="0.96"/><path d="M1007.6 702.9q0.9 -6.7 6.0 -11.1" stroke="#cdeaa0" stroke-width="1.49"/><path d="M1008.3 701.5q0.1 -8.1 0.4 -13.5" stroke="#cdeaa0" stroke-width="1.43"/><path d="M1014.2 707.9q0.8 -16.3 5.4 -27.2" stroke="#62b02a" stroke-width="1.55"/><path d="M1005.3 706.2q-1.0 -6.5 -6.6 -10.8" stroke="#74c236" stroke-width="1.86"/><path d="M981.9 704.4q-1.3 -6.8 -8.7 -11.3" stroke="#cdeaa0" stroke-width="1.55"/><path d="M990.2 708.0q0.7 -18.0 4.5 -29.9" stroke="#cdeaa0" stroke-width="1.79"/><path d="M960.8 703.8q-0.1 -17.2 -0.5 -28.6" stroke="#69b82e" stroke-width="1.73"/><path d="M971.4 701.9q0.4 -9.5 2.7 -15.8" stroke="#5aa826" stroke-width="1.34"/><path d="M982.3 704.2q0.7 -16.3 4.8 -27.1" stroke="#7fca3e" stroke-width="1.50"/><path d="M968.7 703.2q0.4 -11.0 2.7 -18.3" stroke="#62b02a" stroke-width="1.13"/><path d="M996.0 707.9q-0.6 -6.9 -4.2 -11.5" stroke="#93d456" stroke-width="0.91"/><path d="M970.1 704.1q-0.6 -16.6 -3.9 -27.7" stroke="#5aa826" stroke-width="1.31"/><path d="M962.8 700.9q1.3 -9.0 8.6 -15.0" stroke="#5aa826" stroke-width="0.82"/><path d="M988.0 701.4q-0.1 -20.5 -0.9 -34.2" stroke="#3f7f18" stroke-width="1.23"/><path d="M1021.8 700.6q-1.1 -7.1 -7.4 -11.9" stroke="#62b02a" stroke-width="1.38"/><path d="M1024.5 706.9q0.0 -18.3 0.2 -30.5" stroke="#69b82e" stroke-width="1.57"/><path d="M971.1 700.8q-1.3 -13.3 -8.6 -22.2" stroke="#4f9a1e" stroke-width="1.84"/><path d="M1004.4 704.8q-0.2 -16.9 -1.5 -28.2" stroke="#b9e486" stroke-width="1.15"/><path d="M1016.2 708.0q0.9 -17.3 6.1 -28.8" stroke="#69b82e" stroke-width="1.83"/><path d="M968.5 707.9q-0.7 -17.1 -4.4 -28.5" stroke="#69b82e" stroke-width="1.23"/><path d="M1027.9 703.3q-0.2 -11.4 -1.3 -19.0" stroke="#3f7f18" stroke-width="1.74"/><path d="M974.8 707.6q0.4 -15.9 2.4 -26.5" stroke="#86cc48" stroke-width="1.07"/><path d="M973.7 703.9q-0.3 -8.8 -2.3 -14.7" stroke="#b9e486" stroke-width="1.77"/><path d="M1014.1 703.0q1.2 -19.7 7.9 -32.8" stroke="#cdeaa0" stroke-width="1.02"/><path d="M960.0 700.5q0.3 -12.2 2.1 -20.3" stroke="#86cc48" stroke-width="1.51"/><path d="M975.2 707.6q-1.0 -19.9 -6.7 -33.2" stroke="#5aa826" stroke-width="1.26"/><path d="M974.8 706.0q0.4 -17.1 2.8 -28.5" stroke="#b9e486" stroke-width="1.52"/><path d="M976.3 703.5q-0.9 -11.9 -6.0 -19.9" stroke="#86cc48" stroke-width="0.88"/><path d="M991.0 701.5q-0.1 -14.3 -0.8 -23.8" stroke="#74c236" stroke-width="1.90"/><path d="M987.3 706.9q-1.1 -8.9 -7.4 -14.8" stroke="#74c236" stroke-width="1.41"/><path d="M977.6 705.1q-0.8 -18.1 -5.4 -30.2" stroke="#4f9a1e" stroke-width="1.62"/><path d="M984.5 704.7q-0.3 -13.9 -2.2 -23.1" stroke="#74c236" stroke-width="1.63"/><path d="M990.9 703.4q0.5 -11.4 3.4 -19.0" stroke="#cdeaa0" stroke-width="1.49"/><path d="M1017.9 706.3q-0.7 -10.1 -4.5 -16.8" stroke="#b9e486" stroke-width="1.51"/><path d="M986.0 705.5q1.3 -18.2 8.4 -30.4" stroke="#86cc48" stroke-width="0.84"/><path d="M1006.5 700.8q0.2 -13.1 1.6 -21.8" stroke="#4f9a1e" stroke-width="0.88"/><path d="M1022.8 700.6q-0.1 -13.9 -0.6 -23.2" stroke="#5aa826" stroke-width="1.07"/><path d="M962.1 706.8q0.5 -13.8 3.3 -23.1" stroke="#62b02a" stroke-width="1.57"/><path d="M1016.6 700.8q0.7 -7.3 5.0 -12.1" stroke="#4f9a1e" stroke-width="1.66"/><path d="M971.2 700.6q-0.5 -15.7 -3.5 -26.1" stroke="#86cc48" stroke-width="1.49"/><path d="M993.1 704.5q-1.1 -17.5 -7.2 -29.1" stroke="#3f7f18" stroke-width="1.38"/><path d="M997.1 704.9q0.3 -9.4 1.8 -15.6" stroke="#4f9a1e" stroke-width="1.39"/><path d="M1027.7 705.8q0.9 -10.7 6.1 -17.9" stroke="#a6dc6a" stroke-width="1.32"/><path d="M971.4 706.0q0.6 -20.4 3.7 -34.0" stroke="#3f7f18" stroke-width="0.86"/><path d="M968.4 700.9q-1.1 -15.7 -7.5 -26.2" stroke="#a6dc6a" stroke-width="1.53"/><path d="M1022.5 706.2q-0.4 -6.5 -2.9 -10.9" stroke="#b9e486" stroke-width="1.20"/><path d="M983.3 707.9q0.9 -10.4 6.2 -17.3" stroke="#69b82e" stroke-width="1.03"/><path d="M1025.8 705.5q-0.7 -18.3 -4.8 -30.5" stroke="#a6dc6a" stroke-width="1.09"/><path d="M1019.8 707.1q0.3 -15.4 2.0 -25.6" stroke="#a6dc6a" stroke-width="1.33"/><path d="M1021.4 707.5q1.1 -14.9 7.6 -24.9" stroke="#4f9a1e" stroke-width="1.03"/><path d="M1026.1 706.9q-1.2 -6.8 -7.9 -11.3" stroke="#b9e486" stroke-width="1.29"/><path d="M1006.7 705.5q-1.1 -7.7 -7.6 -12.8" stroke="#86cc48" stroke-width="1.16"/><path d="M967.7 700.5q-1.3 -17.2 -8.4 -28.7" stroke="#93d456" stroke-width="1.60"/><path d="M1016.1 700.1q-1.1 -12.6 -7.0 -21.1" stroke="#69b82e" stroke-width="1.11"/><path d="M980.0 700.4q1.3 -7.9 8.4 -13.1" stroke="#a6dc6a" stroke-width="1.22"/><path d="M1010.9 705.5q-1.1 -18.1 -7.4 -30.1" stroke="#62b02a" stroke-width="1.32"/><path d="M981.6 700.6q-0.4 -8.9 -2.4 -14.8" stroke="#5aa826" stroke-width="0.83"/><path d="M984.4 701.5q-1.2 -17.5 -8.3 -29.2" stroke="#4f9a1e" stroke-width="1.31"/><path d="M1013.4 707.5q-1.2 -8.9 -7.9 -14.9" stroke="#7fca3e" stroke-width="1.17"/><path d="M974.2 700.3q-0.6 -15.3 -4.3 -25.4" stroke="#62b02a" stroke-width="1.56"/><path d="M1022.4 705.6q0.3 -16.8 1.7 -28.0" stroke="#93d456" stroke-width="1.84"/><path d="M958.8 701.4q0.6 -7.6 3.9 -12.7" stroke="#5aa826" stroke-width="1.85"/><path d="M982.6 706.0q-0.0 -12.4 -0.1 -20.7" stroke="#5aa826" stroke-width="1.00"/><path d="M1013.4 702.1q0.7 -18.3 4.9 -30.6" stroke="#7fca3e" stroke-width="1.06"/><path d="M1017.7 704.3q0.3 -17.8 1.7 -29.6" stroke="#cdeaa0" stroke-width="1.02"/><path d="M1009.7 706.0q-1.3 -7.0 -8.4 -11.6" stroke="#cdeaa0" stroke-width="1.40"/><path d="M965.9 704.6q-1.2 -7.6 -7.7 -12.6" stroke="#7fca3e" stroke-width="0.89"/><path d="M961.1 704.0q-0.1 -16.6 -1.0 -27.7" stroke="#a6dc6a" stroke-width="0.95"/><path d="M988.1 700.9q0.1 -9.5 0.7 -15.9" stroke="#93d456" stroke-width="1.64"/><path d="M1011.7 705.6q-0.6 -10.2 -4.2 -17.0" stroke="#3f7f18" stroke-width="1.61"/><path d="M968.7 706.0q-0.9 -9.7 -6.2 -16.1" stroke="#7fca3e" stroke-width="1.01"/><path d="M958.8 706.0q0.1 -9.7 0.5 -16.1" stroke="#93d456" stroke-width="1.69"/><path d="M1002.3 700.1q-0.1 -7.5 -0.5 -12.6" stroke="#a6dc6a" stroke-width="1.72"/><path d="M1021.7 707.7q-1.0 -10.4 -6.9 -17.3" stroke="#a6dc6a" stroke-width="1.46"/><path d="M1015.3 706.4q0.0 -7.1 0.2 -11.9" stroke="#86cc48" stroke-width="1.29"/><path d="M973.2 701.8q-1.1 -20.2 -7.1 -33.6" stroke="#7fca3e" stroke-width="1.58"/><path d="M979.9 707.7q-1.2 -11.1 -8.2 -18.5" stroke="#3f7f18" stroke-width="0.84"/><path d="M1008.2 700.7q0.9 -18.2 5.7 -30.4" stroke="#b9e486" stroke-width="1.55"/><path d="M967.7 705.5q0.8 -9.1 5.3 -15.1" stroke="#cdeaa0" stroke-width="1.33"/><path d="M984.2 701.6q-0.9 -16.0 -6.2 -26.6" stroke="#cdeaa0" stroke-width="0.90"/><path d="M966.1 702.4q-0.6 -12.1 -3.9 -20.2" stroke="#3f7f18" stroke-width="1.26"/><path d="M957.8 702.0q-0.2 -19.3 -1.5 -32.1" stroke="#4f9a1e" stroke-width="1.75"/><path d="M1027.7 705.1q0.6 -9.0 4.1 -14.9" stroke="#a6dc6a" stroke-width="1.84"/><path d="M986.1 706.7q-1.1 -7.7 -7.4 -12.8" stroke="#7fca3e" stroke-width="1.77"/><path d="M988.1 706.7q0.1 -6.2 0.9 -10.4" stroke="#93d456" stroke-width="1.69"/><path d="M983.4 703.4q0.6 -19.9 4.3 -33.2" stroke="#86cc48" stroke-width="0.96"/><path d="M975.0 703.8q-1.1 -19.9 -7.0 -33.1" stroke="#5aa826" stroke-width="1.63"/><path d="M1012.6 701.6q0.9 -10.5 6.1 -17.5" stroke="#4f9a1e" stroke-width="1.87"/><path d="M989.7 707.6q-0.3 -19.9 -2.0 -33.2" stroke="#62b02a" stroke-width="1.48"/><path d="M1015.0 706.7q-0.8 -17.8 -5.0 -29.6" stroke="#b9e486" stroke-width="1.48"/><path d="M968.5 704.2q-1.2 -14.5 -8.2 -24.1" stroke="#cdeaa0" stroke-width="0.97"/><path d="M980.6 706.8q0.9 -20.6 5.7 -34.3" stroke="#a6dc6a" stroke-width="0.85"/><path d="M995.6 701.9q0.9 -6.6 6.1 -11.0" stroke="#69b82e" stroke-width="1.23"/><path d="M987.7 701.2q0.4 -17.7 2.7 -29.5" stroke="#3f7f18" stroke-width="1.44"/><path d="M985.5 702.7q-0.2 -12.7 -1.1 -21.2" stroke="#4f9a1e" stroke-width="0.80"/><path d="M1027.0 704.3q0.3 -12.7 2.1 -21.2" stroke="#5aa826" stroke-width="1.72"/><path d="M1014.0 704.8q-0.4 -7.0 -2.5 -11.7" stroke="#74c236" stroke-width="0.90"/><path d="M986.7 703.9q0.4 -6.6 2.5 -11.0" stroke="#69b82e" stroke-width="1.81"/><path d="M977.2 702.2q0.7 -7.2 4.5 -12.0" stroke="#b9e486" stroke-width="1.52"/><path d="M1012.0 707.8q0.3 -7.0 2.1 -11.7" stroke="#62b02a" stroke-width="1.70"/><path d="M968.3 700.1q1.2 -13.4 8.2 -22.3" stroke="#86cc48" stroke-width="1.55"/><path d="M1007.4 706.2q0.3 -18.5 2.0 -30.8" stroke="#3f7f18" stroke-width="0.97"/><path d="M1020.3 705.8q-1.0 -18.2 -6.4 -30.4" stroke="#cdeaa0" stroke-width="1.86"/><path d="M989.5 703.3q-0.7 -15.2 -4.7 -25.4" stroke="#74c236" stroke-width="0.84"/><path d="M967.5 706.7q0.5 -20.0 3.2 -33.4" stroke="#b9e486" stroke-width="0.99"/><path d="M1012.1 707.1q0.4 -14.0 2.5 -23.3" stroke="#74c236" stroke-width="1.86"/><path d="M987.5 703.8q1.1 -16.3 7.1 -27.2" stroke="#3f7f18" stroke-width="1.89"/><path d="M1000.6 704.8q-0.6 -18.0 -4.2 -29.9" stroke="#74c236" stroke-width="1.44"/><path d="M980.7 701.9q-0.9 -12.6 -5.8 -21.1" stroke="#62b02a" stroke-width="1.85"/><path d="M975.9 703.9q1.3 -10.7 8.4 -17.8" stroke="#7fca3e" stroke-width="1.82"/><path d="M1020.3 702.1q-0.8 -17.2 -5.0 -28.7" stroke="#3f7f18" stroke-width="1.48"/><path d="M986.0 703.9q-1.0 -19.4 -6.6 -32.4" stroke="#a6dc6a" stroke-width="1.47"/><path d="M957.4 707.6q-0.5 -14.5 -3.5 -24.2" stroke="#cdeaa0" stroke-width="1.19"/><path d="M970.6 703.3q-0.8 -14.8 -5.3 -24.7" stroke="#7fca3e" stroke-width="1.71"/><path d="M965.7 707.9q0.6 -18.0 3.7 -30.0" stroke="#5aa826" stroke-width="0.91"/><path d="M1001.2 701.0q-0.3 -17.7 -1.8 -29.6" stroke="#3f7f18" stroke-width="1.86"/><path d="M958.2 701.4q0.3 -19.4 1.7 -32.3" stroke="#7fca3e" stroke-width="1.29"/><path d="M1023.3 702.1q1.1 -9.7 7.3 -16.2" stroke="#4f9a1e" stroke-width="0.87"/><path d="M955.9 706.5q1.1 -8.4 7.4 -14.0" stroke="#69b82e" stroke-width="0.81"/><path d="M994.8 700.5q-0.8 -8.1 -5.4 -13.6" stroke="#7fca3e" stroke-width="1.51"/><path d="M1001.9 704.7q0.0 -15.2 0.2 -25.3" stroke="#69b82e" stroke-width="1.13"/><path d="M957.6 700.9q0.6 -17.7 3.9 -29.6" stroke="#4f9a1e" stroke-width="1.21"/><path d="M986.3 700.7q0.4 -7.2 2.8 -12.0" stroke="#86cc48" stroke-width="1.05"/><path d="M961.8 706.1q-0.4 -6.6 -3.0 -11.0" stroke="#62b02a" stroke-width="1.82"/><path d="M1023.8 705.9q0.4 -6.8 2.4 -11.3" stroke="#93d456" stroke-width="1.28"/><path d="M1012.3 703.8q0.4 -10.0 2.6 -16.6" stroke="#a6dc6a" stroke-width="0.89"/><path d="M991.5 706.6q0.9 -19.6 6.2 -32.6" stroke="#a6dc6a" stroke-width="1.84"/><path d="M1009.2 705.4q-0.5 -19.2 -3.1 -32.0" stroke="#a6dc6a" stroke-width="1.22"/><path d="M1017.0 700.6q0.9 -20.7 6.1 -34.5" stroke="#cdeaa0" stroke-width="1.32"/><path d="M1016.1 702.4q-0.2 -18.9 -1.1 -31.4" stroke="#62b02a" stroke-width="1.06"/><path d="M1019.5 701.7q0.2 -11.9 1.5 -19.8" stroke="#7fca3e" stroke-width="1.80"/><path d="M964.7 707.8q1.2 -7.6 7.7 -12.7" stroke="#74c236" stroke-width="1.88"/><path d="M1005.9 707.8q0.4 -8.1 2.6 -13.5" stroke="#4f9a1e" stroke-width="1.57"/><path d="M1008.5 707.5q-0.4 -14.9 -2.5 -24.8" stroke="#cdeaa0" stroke-width="1.78"/><path d="M958.9 701.1q1.2 -19.7 8.0 -32.9" stroke="#69b82e" stroke-width="1.07"/><path d="M969.0 707.7q1.1 -20.2 7.4 -33.7" stroke="#93d456" stroke-width="0.90"/><path d="M1009.6 702.9q-1.0 -13.2 -6.6 -21.9" stroke="#93d456" stroke-width="1.03"/><path d="M977.6 704.6q-0.7 -6.3 -4.4 -10.5" stroke="#3f7f18" stroke-width="0.85"/><path d="M1010.2 700.7q0.3 -17.5 1.8 -29.2" stroke="#5aa826" stroke-width="1.74"/><path d="M999.8 707.8q-0.2 -12.2 -1.1 -20.3" stroke="#69b82e" stroke-width="1.18"/><path d="M1006.1 703.7q1.0 -9.2 6.5 -15.4" stroke="#69b82e" stroke-width="1.43"/><path d="M975.2 704.5q-0.6 -13.9 -3.8 -23.1" stroke="#4f9a1e" stroke-width="0.80"/><path d="M990.3 704.1q-0.9 -18.0 -5.7 -29.9" stroke="#5aa826" stroke-width="1.45"/><path d="M1024.8 703.9q-0.9 -14.7 -6.1 -24.5" stroke="#a6dc6a" stroke-width="1.83"/><path d="M971.1 706.7q0.7 -20.1 4.8 -33.5" stroke="#5aa826" stroke-width="1.67"/><path d="M1005.6 701.7q-0.4 -15.4 -2.6 -25.7" stroke="#b9e486" stroke-width="1.82"/><path d="M1020.0 702.0q0.4 -12.3 2.6 -20.6" stroke="#74c236" stroke-width="1.03"/><path d="M973.5 700.8q-0.3 -13.5 -2.2 -22.5" stroke="#93d456" stroke-width="1.06"/><path d="M988.1 703.7q0.7 -17.3 4.6 -28.9" stroke="#93d456" stroke-width="0.84"/><path d="M997.0 703.8q-0.1 -19.0 -0.9 -31.7" stroke="#cdeaa0" stroke-width="1.62"/><path d="M966.5 704.5q0.2 -17.6 1.4 -29.3" stroke="#86cc48" stroke-width="1.17"/><path d="M1001.6 702.4q-0.6 -13.6 -4.2 -22.7" stroke="#62b02a" stroke-width="1.71"/><path d="M999.7 702.2q0.6 -20.6 4.0 -34.4" stroke="#7fca3e" stroke-width="1.37"/><path d="M965.9 705.4q1.3 -8.8 8.6 -14.7" stroke="#62b02a" stroke-width="1.89"/><path d="M966.2 702.7q-0.9 -8.9 -6.3 -14.9" stroke="#86cc48" stroke-width="1.67"/><path d="M1008.3 704.5q0.4 -8.9 2.5 -14.9" stroke="#69b82e" stroke-width="1.11"/><path d="M1019.5 704.3q1.0 -6.2 6.4 -10.3" stroke="#b9e486" stroke-width="1.56"/><path d="M991.0 702.9q-1.0 -12.9 -6.4 -21.6" stroke="#7fca3e" stroke-width="1.61"/><path d="M954.4 706.1q0.5 -18.8 3.6 -31.3" stroke="#7fca3e" stroke-width="1.62"/><path d="M985.2 706.2q1.0 -16.8 6.8 -28.1" stroke="#93d456" stroke-width="1.57"/><path d="M1017.1 702.6q-0.1 -15.6 -0.8 -26.0" stroke="#74c236" stroke-width="1.09"/><path d="M1005.8 700.8q-0.3 -9.6 -1.8 -16.1" stroke="#62b02a" stroke-width="1.49"/><path d="M972.5 704.6q0.3 -12.8 2.2 -21.4" stroke="#b9e486" stroke-width="1.37"/><path d="M1002.9 701.0q-0.5 -19.4 -3.1 -32.4" stroke="#4f9a1e" stroke-width="1.23"/><path d="M990.2 700.2q0.1 -6.6 0.8 -11.0" stroke="#86cc48" stroke-width="1.59"/><path d="M1024.4 706.4q0.9 -11.2 6.2 -18.7" stroke="#5aa826" stroke-width="1.40"/><path d="M1007.1 703.9q0.9 -15.6 5.9 -26.0" stroke="#cdeaa0" stroke-width="1.18"/><path d="M1008.9 704.3q-0.9 -20.9 -5.7 -34.8" stroke="#cdeaa0" stroke-width="1.64"/><path d="M963.1 700.1q-1.2 -11.3 -8.0 -18.9" stroke="#3f7f18" stroke-width="1.22"/><path d="M958.6 707.4q0.3 -19.7 2.3 -32.9" stroke="#93d456" stroke-width="1.19"/><path d="M973.6 706.2q1.2 -17.1 7.9 -28.5" stroke="#cdeaa0" stroke-width="1.87"/><path d="M1027.6 700.3q-0.9 -12.9 -6.0 -21.6" stroke="#69b82e" stroke-width="1.69"/><path d="M1000.9 704.2q-0.7 -14.4 -4.9 -24.1" stroke="#86cc48" stroke-width="1.19"/><path d="M1001.3 701.5q-0.1 -18.2 -0.6 -30.4" stroke="#3f7f18" stroke-width="1.64"/><path d="M1002.1 701.8q0.8 -13.0 5.1 -21.7" stroke="#a6dc6a" stroke-width="1.09"/><path d="M981.8 706.0q-0.8 -12.4 -5.7 -20.7" stroke="#4f9a1e" stroke-width="1.69"/><path d="M1013.1 705.1q-0.5 -15.8 -3.2 -26.4" stroke="#5aa826" stroke-width="1.27"/><path d="M1001.2 702.7q1.2 -11.4 7.7 -19.1" stroke="#b9e486" stroke-width="0.86"/><path d="M1015.3 700.8q-1.0 -17.8 -6.5 -29.6" stroke="#74c236" stroke-width="1.50"/><path d="M955.1 707.9q0.4 -20.3 2.8 -33.8" stroke="#3f7f18" stroke-width="1.47"/><path d="M996.8 701.2q-0.1 -8.8 -0.9 -14.6" stroke="#86cc48" stroke-width="1.03"/><path d="M983.8 703.7q0.5 -15.1 3.4 -25.2" stroke="#69b82e" stroke-width="1.54"/><path d="M1020.1 701.7q-0.8 -18.6 -5.4 -31.0" stroke="#62b02a" stroke-width="1.03"/><path d="M959.8 701.3q-1.0 -16.1 -6.9 -26.8" stroke="#69b82e" stroke-width="1.09"/><path d="M971.3 706.9q-1.2 -13.4 -7.9 -22.3" stroke="#5aa826" stroke-width="1.80"/><path d="M1005.8 706.0q0.3 -8.5 1.8 -14.1" stroke="#62b02a" stroke-width="0.81"/><path d="M1016.2 704.3q0.4 -14.4 3.0 -24.1" stroke="#5aa826" stroke-width="1.21"/><path d="M985.0 700.3q0.4 -7.1 2.5 -11.9" stroke="#93d456" stroke-width="1.51"/><path d="M955.5 707.6q1.3 -17.0 9.0 -28.4" stroke="#69b82e" stroke-width="1.36"/><path d="M989.9 700.8q0.6 -6.5 3.9 -10.8" stroke="#93d456" stroke-width="0.94"/><path d="M961.0 702.7q0.8 -11.1 5.0 -18.5" stroke="#cdeaa0" stroke-width="1.65"/><path d="M969.6 704.5q0.1 -12.3 1.0 -20.6" stroke="#3f7f18" stroke-width="1.12"/><path d="M1015.3 704.8q-0.6 -13.6 -4.1 -22.6" stroke="#cdeaa0" stroke-width="1.18"/><path d="M969.1 704.1q-0.8 -7.8 -5.5 -12.9" stroke="#62b02a" stroke-width="1.13"/><path d="M997.4 702.9q-1.2 -17.8 -8.3 -29.6" stroke="#62b02a" stroke-width="1.41"/><path d="M984.0 703.4q-1.1 -12.0 -7.0 -20.0" stroke="#4f9a1e" stroke-width="1.01"/><path d="M1022.2 703.1q0.8 -15.9 5.2 -26.5" stroke="#cdeaa0" stroke-width="1.47"/><path d="M999.6 703.0q0.3 -16.4 1.7 -27.4" stroke="#93d456" stroke-width="0.89"/><path d="M956.9 702.9q-0.9 -15.4 -5.9 -25.6" stroke="#93d456" stroke-width="1.00"/><path d="M956.7 701.8q0.4 -19.7 2.8 -32.9" stroke="#74c236" stroke-width="1.76"/><path d="M964.3 705.5q1.0 -16.7 6.5 -27.8" stroke="#86cc48" stroke-width="1.26"/><path d="M977.6 704.6q1.2 -15.6 7.8 -26.0" stroke="#4f9a1e" stroke-width="1.35"/><path d="M992.6 701.4q-0.2 -17.6 -1.4 -29.3" stroke="#62b02a" stroke-width="1.81"/><path d="M987.0 707.9q0.2 -11.8 1.7 -19.7" stroke="#93d456" stroke-width="1.88"/><path d="M989.2 704.7q0.4 -7.5 2.6 -12.6" stroke="#a6dc6a" stroke-width="1.79"/><path d="M1000.4 704.6q0.5 -6.1 3.0 -10.2" stroke="#69b82e" stroke-width="1.04"/><path d="M963.0 704.2q0.2 -10.1 1.2 -16.9" stroke="#5aa826" stroke-width="1.61"/><path d="M967.9 707.6q0.6 -17.6 3.8 -29.4" stroke="#86cc48" stroke-width="1.60"/><path d="M960.2 703.0q-0.1 -16.6 -0.7 -27.7" stroke="#3f7f18" stroke-width="1.80"/><path d="M957.9 707.7q1.0 -6.9 6.9 -11.5" stroke="#93d456" stroke-width="1.70"/><path d="M959.9 705.5q-0.9 -16.9 -6.0 -28.2" stroke="#5aa826" stroke-width="1.47"/><path d="M977.4 700.4q-0.1 -16.9 -0.5 -28.2" stroke="#86cc48" stroke-width="0.96"/><path d="M1013.0 705.1q0.4 -15.7 2.3 -26.1" stroke="#b9e486" stroke-width="1.32"/><path d="M1011.6 704.4q0.7 -10.1 4.6 -16.8" stroke="#74c236" stroke-width="1.12"/><path d="M958.5 700.2q0.9 -16.5 5.9 -27.6" stroke="#74c236" stroke-width="1.76"/><path d="M1007.7 707.9q0.9 -8.3 6.0 -13.8" stroke="#7fca3e" stroke-width="1.27"/><path d="M1019.7 705.0q0.3 -16.3 1.8 -27.1" stroke="#a6dc6a" stroke-width="1.69"/><path d="M975.0 708.0q-0.2 -9.9 -1.4 -16.6" stroke="#7fca3e" stroke-width="1.81"/><path d="M1010.5 701.7q-1.0 -10.3 -6.5 -17.2" stroke="#7fca3e" stroke-width="0.96"/><path d="M1026.2 701.6q0.7 -14.2 5.0 -23.7" stroke="#5aa826" stroke-width="1.18"/><path d="M960.3 703.6q-0.8 -18.0 -5.4 -29.9" stroke="#62b02a" stroke-width="1.82"/><path d="M971.3 703.1q-0.1 -16.2 -0.6 -26.9" stroke="#a6dc6a" stroke-width="1.82"/><path d="M997.4 707.9q0.1 -11.8 0.7 -19.6" stroke="#cdeaa0" stroke-width="1.69"/><path d="M1011.1 706.1q1.1 -14.7 7.1 -24.5" stroke="#cdeaa0" stroke-width="1.15"/><path d="M991.5 706.4q-1.1 -9.2 -7.3 -15.3" stroke="#62b02a" stroke-width="1.12"/><path d="M996.8 705.1q1.0 -17.7 6.4 -29.5" stroke="#a6dc6a" stroke-width="0.85"/><path d="M1027.8 705.0q0.4 -7.6 2.4 -12.7" stroke="#69b82e" stroke-width="0.97"/><path d="M998.2 705.2q-1.3 -13.8 -8.6 -23.0" stroke="#4f9a1e" stroke-width="1.03"/><path d="M1018.4 703.5q-0.8 -14.8 -5.2 -24.7" stroke="#3f7f18" stroke-width="1.27"/><path d="M1024.0 701.9q1.3 -18.3 8.3 -30.5" stroke="#3f7f18" stroke-width="1.73"/><path d="M979.1 700.0q-1.3 -11.7 -8.5 -19.5" stroke="#4f9a1e" stroke-width="1.41"/><path d="M1018.4 704.3q1.1 -20.2 7.4 -33.7" stroke="#69b82e" stroke-width="1.75"/><path d="M1001.3 700.6q-1.1 -16.6 -7.4 -27.7" stroke="#74c236" stroke-width="1.42"/><path d="M1001.4 700.3q-0.3 -16.0 -1.9 -26.7" stroke="#5aa826" stroke-width="1.73"/><path d="M981.4 706.1q-0.9 -16.8 -5.9 -28.0" stroke="#3f7f18" stroke-width="1.84"/><path d="M958.4 703.6q1.1 -6.4 7.5 -10.7" stroke="#3f7f18" stroke-width="1.67"/><path d="M1006.5 702.8q-1.2 -20.8 -8.0 -34.6" stroke="#86cc48" stroke-width="1.15"/><path d="M954.4 706.4q0.2 -17.2 1.6 -28.7" stroke="#5aa826" stroke-width="1.63"/><path d="M961.8 705.4q-1.0 -9.9 -6.8 -16.4" stroke="#5aa826" stroke-width="1.22"/><path d="M986.7 701.5q1.1 -19.7 7.1 -32.9" stroke="#5aa826" stroke-width="1.59"/><path d="M968.4 707.7q-0.8 -19.9 -5.0 -33.2" stroke="#7fca3e" stroke-width="1.75"/><path d="M1019.8 706.9q-1.1 -12.7 -7.3 -21.2" stroke="#b9e486" stroke-width="1.73"/><path d="M1000.5 704.4q0.9 -11.1 5.8 -18.5" stroke="#5aa826" stroke-width="0.93"/><path d="M981.1 705.3q-0.9 -17.0 -5.8 -28.4" stroke="#5aa826" stroke-width="1.41"/><path d="M964.7 701.0q-0.2 -10.0 -1.6 -16.7" stroke="#86cc48" stroke-width="0.83"/><path d="M996.3 705.6q-0.6 -18.1 -4.3 -30.1" stroke="#69b82e" stroke-width="1.15"/><path d="M1020.8 707.1q-1.2 -20.7 -8.0 -34.5" stroke="#93d456" stroke-width="1.82"/><path d="M995.4 701.3q0.7 -7.8 4.6 -13.0" stroke="#74c236" stroke-width="1.28"/><path d="M973.4 706.1q-0.3 -9.6 -2.0 -16.0" stroke="#b9e486" stroke-width="1.79"/><path d="M958.3 702.2q1.3 -10.4 8.6 -17.3" stroke="#4f9a1e" stroke-width="1.29"/><path d="M991.6 703.9q0.8 -12.6 5.2 -21.1" stroke="#cdeaa0" stroke-width="1.12"/><path d="M980.6 707.7q-0.6 -12.1 -4.0 -20.2" stroke="#86cc48" stroke-width="0.95"/><path d="M967.3 701.8q-0.8 -16.7 -5.5 -27.8" stroke="#69b82e" stroke-width="1.71"/><path d="M1019.8 702.2q-0.9 -17.4 -5.8 -29.0" stroke="#86cc48" stroke-width="1.47"/><path d="M1006.4 701.5q-0.8 -14.7 -5.4 -24.6" stroke="#69b82e" stroke-width="1.56"/><path d="M992.4 701.3q0.0 -19.7 0.3 -32.9" stroke="#74c236" stroke-width="1.17"/><path d="M1016.3 701.1q-1.3 -13.4 -8.7 -22.3" stroke="#5aa826" stroke-width="0.95"/><path d="M1003.2 706.0q1.3 -14.4 8.7 -24.1" stroke="#4f9a1e" stroke-width="0.98"/><path d="M981.5 703.2q0.1 -6.1 0.4 -10.1" stroke="#5aa826" stroke-width="1.87"/><path d="M959.3 705.1q0.9 -9.7 5.9 -16.1" stroke="#74c236" stroke-width="1.66"/><path d="M1018.2 703.4q-0.6 -19.5 -3.8 -32.5" stroke="#69b82e" stroke-width="1.85"/><path d="M990.6 703.9q0.1 -14.0 0.7 -23.3" stroke="#4f9a1e" stroke-width="1.07"/><path d="M960.6 703.0q-0.5 -8.5 -3.4 -14.2" stroke="#cdeaa0" stroke-width="1.70"/><path d="M956.2 707.2q-0.8 -16.5 -5.5 -27.5" stroke="#4f9a1e" stroke-width="1.72"/><path d="M1001.1 704.3q-0.2 -9.6 -1.0 -16.0" stroke="#74c236" stroke-width="1.76"/><path d="M1007.1 707.6q-0.0 -7.8 -0.1 -13.1" stroke="#cdeaa0" stroke-width="1.64"/><path d="M962.1 707.0q0.1 -19.3 0.7 -32.1" stroke="#a6dc6a" stroke-width="1.75"/><path d="M964.9 703.4q-0.9 -17.2 -6.0 -28.7" stroke="#4f9a1e" stroke-width="1.83"/><path d="M982.8 704.6q0.1 -18.6 0.5 -31.0" stroke="#b9e486" stroke-width="1.87"/><path d="M957.8 705.1q0.9 -12.0 6.1 -20.0" stroke="#62b02a" stroke-width="1.28"/><path d="M1026.6 701.6q0.9 -19.7 5.7 -32.8" stroke="#cdeaa0" stroke-width="0.86"/><path d="M992.3 700.3q-0.7 -20.0 -4.5 -33.4" stroke="#b9e486" stroke-width="1.53"/><path d="M954.9 707.1q-0.5 -8.8 -3.2 -14.7" stroke="#a6dc6a" stroke-width="1.36"/><path d="M955.5 706.9q0.7 -20.5 5.0 -34.2" stroke="#5aa826" stroke-width="1.50"/><path d="M1013.9 700.9q-1.3 -19.3 -8.4 -32.1" stroke="#93d456" stroke-width="1.48"/><path d="M1021.9 703.0q0.8 -15.4 5.5 -25.7" stroke="#4f9a1e" stroke-width="1.48"/><path d="M972.5 703.8q1.2 -12.5 8.1 -20.8" stroke="#3f7f18" stroke-width="0.92"/><path d="M979.7 706.7q1.2 -6.9 8.3 -11.5" stroke="#cdeaa0" stroke-width="1.79"/><path d="M960.3 703.3q-0.2 -20.0 -1.1 -33.3" stroke="#cdeaa0" stroke-width="0.94"/><path d="M975.7 704.7q-0.7 -10.3 -4.6 -17.2" stroke="#69b82e" stroke-width="1.61"/><path d="M975.3 704.4q-0.8 -16.4 -5.0 -27.4" stroke="#b9e486" stroke-width="1.02"/><path d="M1006.6 704.3q0.3 -14.2 2.0 -23.7" stroke="#5aa826" stroke-width="1.70"/><path d="M956.3 705.3q0.1 -8.8 0.8 -14.7" stroke="#7fca3e" stroke-width="1.24"/><path d="M1022.4 706.7q-0.5 -20.3 -3.2 -33.8" stroke="#74c236" stroke-width="1.34"/><path d="M975.1 700.1q0.7 -10.4 4.9 -17.4" stroke="#86cc48" stroke-width="1.41"/><path d="M998.8 705.2q0.0 -15.9 0.3 -26.4" stroke="#5aa826" stroke-width="1.19"/><path d="M1010.5 703.8q0.5 -20.8 3.2 -34.7" stroke="#86cc48" stroke-width="1.26"/><path d="M1003.4 706.9q0.3 -9.0 2.0 -15.1" stroke="#3f7f18" stroke-width="1.70"/><path d="M992.3 702.1q0.7 -17.1 4.7 -28.6" stroke="#5aa826" stroke-width="1.10"/><path d="M1000.7 702.9q-0.2 -16.6 -1.6 -27.6" stroke="#69b82e" stroke-width="0.80"/><path d="M1010.7 703.3q1.2 -13.5 8.3 -22.4" stroke="#7fca3e" stroke-width="0.96"/><path d="M1016.9 705.8q-1.1 -15.3 -7.0 -25.5" stroke="#5aa826" stroke-width="1.56"/><path d="M975.3 705.2q0.1 -11.3 0.5 -18.8" stroke="#7fca3e" stroke-width="1.22"/><path d="M977.8 701.7q-0.0 -18.7 -0.0 -31.2" stroke="#5aa826" stroke-width="1.13"/><path d="M993.7 701.6q-0.3 -12.5 -2.2 -20.9" stroke="#a6dc6a" stroke-width="0.90"/><path d="M1022.1 705.4q0.9 -18.7 6.1 -31.1" stroke="#74c236" stroke-width="1.02"/><path d="M985.6 700.7q-1.2 -6.2 -8.1 -10.3" stroke="#7fca3e" stroke-width="1.79"/><path d="M976.2 703.7q0.3 -10.7 2.2 -17.8" stroke="#b9e486" stroke-width="1.37"/><path d="M992.3 702.5q-0.4 -11.8 -2.6 -19.7" stroke="#7fca3e" stroke-width="1.54"/><path d="M987.5 707.9q-0.7 -7.0 -4.9 -11.7" stroke="#b9e486" stroke-width="1.21"/><path d="M983.7 703.5q1.0 -14.6 6.8 -24.4" stroke="#b9e486" stroke-width="1.34"/><path d="M986.6 703.0q-0.4 -20.9 -2.8 -34.9" stroke="#cdeaa0" stroke-width="1.62"/><path d="M960.8 705.1q-1.1 -11.5 -7.6 -19.2" stroke="#3f7f18" stroke-width="1.36"/><path d="M962.2 700.8q0.9 -16.3 5.8 -27.2" stroke="#cdeaa0" stroke-width="1.78"/><path d="M985.1 706.7q0.0 -10.3 0.2 -17.2" stroke="#cdeaa0" stroke-width="1.78"/><path d="M984.5 707.5q-1.1 -14.5 -7.1 -24.1" stroke="#7fca3e" stroke-width="1.89"/><path d="M1001.1 707.7q0.8 -12.2 5.2 -20.3" stroke="#3f7f18" stroke-width="1.58"/><path d="M994.9 700.7q-1.1 -12.0 -7.2 -19.9" stroke="#4f9a1e" stroke-width="1.53"/><path d="M968.6 704.0q-0.6 -14.3 -4.2 -23.8" stroke="#93d456" stroke-width="1.79"/><path d="M992.1 706.9q0.3 -9.0 1.8 -15.0" stroke="#86cc48" stroke-width="0.97"/><path d="M1010.2 707.1q-0.9 -7.5 -5.9 -12.5" stroke="#cdeaa0" stroke-width="1.34"/><path d="M988.6 704.6q0.4 -18.0 2.7 -30.0" stroke="#93d456" stroke-width="1.65"/><path d="M977.9 702.3q-0.9 -11.3 -6.0 -18.8" stroke="#3f7f18" stroke-width="1.49"/><path d="M1017.6 700.4q-0.8 -6.9 -5.6 -11.6" stroke="#7fca3e" stroke-width="1.22"/><path d="M958.0 700.9q1.2 -14.7 8.3 -24.6" stroke="#5aa826" stroke-width="0.86"/><path d="M971.6 706.2q0.2 -8.4 1.6 -14.0" stroke="#86cc48" stroke-width="1.15"/><path d="M1020.5 701.5q0.3 -10.6 1.8 -17.6" stroke="#5aa826" stroke-width="1.88"/><path d="M959.0 702.6q0.2 -16.1 1.5 -26.9" stroke="#b9e486" stroke-width="1.14"/><path d="M1018.8 704.1q-0.7 -17.9 -4.6 -29.8" stroke="#86cc48" stroke-width="0.99"/><path d="M982.0 707.9q-0.3 -19.2 -1.9 -32.1" stroke="#74c236" stroke-width="0.93"/><path d="M993.5 704.9q-1.2 -12.0 -7.8 -20.1" stroke="#69b82e" stroke-width="1.26"/><path d="M1021.6 703.6q-0.1 -11.8 -0.6 -19.7" stroke="#74c236" stroke-width="1.06"/><path d="M956.6 702.7q-0.9 -11.1 -6.2 -18.5" stroke="#62b02a" stroke-width="0.94"/><path d="M968.5 703.6q0.1 -17.8 1.0 -29.7" stroke="#5aa826" stroke-width="1.72"/><path d="M1013.6 706.7q0.6 -11.3 4.0 -18.8" stroke="#b9e486" stroke-width="1.49"/><path d="M997.0 705.6q-0.8 -13.1 -5.3 -21.9" stroke="#5aa826" stroke-width="1.54"/><path d="M1023.7 700.0q-0.2 -14.9 -1.1 -24.9" stroke="#74c236" stroke-width="1.39"/><path d="M983.9 703.9q0.7 -7.9 4.5 -13.1" stroke="#93d456" stroke-width="1.36"/><path d="M994.2 705.8q-0.3 -17.6 -2.1 -29.3" stroke="#93d456" stroke-width="1.59"/><path d="M964.7 707.9q0.5 -16.7 3.5 -27.8" stroke="#a6dc6a" stroke-width="1.15"/><path d="M1003.0 707.1q-0.4 -14.4 -2.5 -24.0" stroke="#cdeaa0" stroke-width="1.63"/><path d="M968.3 702.3q-0.6 -7.3 -3.8 -12.2" stroke="#62b02a" stroke-width="1.24"/><path d="M980.3 701.2q0.3 -13.0 2.3 -21.6" stroke="#93d456" stroke-width="1.75"/><path d="M963.8 705.8q0.5 -6.4 3.2 -10.7" stroke="#93d456" stroke-width="1.56"/><path d="M1020.4 707.8q-0.1 -16.6 -0.7 -27.6" stroke="#b9e486" stroke-width="1.19"/><path d="M1000.5 706.5q1.1 -7.7 7.4 -12.9" stroke="#62b02a" stroke-width="1.04"/><path d="M1004.1 704.8q-0.2 -15.1 -1.2 -25.2" stroke="#3f7f18" stroke-width="0.97"/><path d="M1008.6 703.6q1.2 -15.4 7.9 -25.7" stroke="#7fca3e" stroke-width="1.72"/><path d="M996.2 702.3q-0.2 -9.8 -1.2 -16.4" stroke="#93d456" stroke-width="1.43"/><path d="M1023.2 707.1q0.4 -17.5 2.8 -29.1" stroke="#4f9a1e" stroke-width="1.76"/><path d="M997.3 702.4q0.5 -20.6 3.3 -34.4" stroke="#4f9a1e" stroke-width="1.67"/></g>
<rect x="956" y="705.8" width="68" height="2.6" fill="#4a3c1a" opacity="0.6"/>
<path d="M976.7 709.6H995.5M1009.5 709.6H1024M956 709.6H958" stroke="#e2b52a" stroke-width="2.6" fill="none"/>
<g fill="none" stroke-linecap="round"><path d="M363.7 670.5l1.2 -4.4" stroke="#d8d040" stroke-width="1"/><path d="M364.9 670.5l1.2 -4.5" stroke="#c8d83a" stroke-width="1"/><path d="M364.8 670.5l1.5 -4.4" stroke="#9cc83a" stroke-width="1"/><path d="M371.9 670.5l-0.3 -5.4" stroke="#8cc040" stroke-width="1"/><path d="M373.8 670.5l1.1 -3.3" stroke="#9cc83a" stroke-width="1"/><path d="M372.1 670.5l-1.0 -5.1" stroke="#c8d83a" stroke-width="1"/><path d="M390.3 670.5l1.0 -2.6" stroke="#c8d83a" stroke-width="1"/><path d="M386.8 670.5l0.6 -4.6" stroke="#8cc040" stroke-width="1"/><path d="M390.1 670.5l1.4 -3.9" stroke="#8cc040" stroke-width="1"/><path d="M394.2 670.5l-1.1 -3.8" stroke="#c8d83a" stroke-width="1"/><path d="M394.6 670.5l0.8 -5.9" stroke="#8cc040" stroke-width="1"/><path d="M397.8 670.5l0.2 -4.0" stroke="#8cc040" stroke-width="1"/><path d="M604.2 670.5l1.2 -3.9" stroke="#9cc83a" stroke-width="1"/><path d="M604.9 670.5l1.5 -5.8" stroke="#d8d040" stroke-width="1"/><path d="M604.9 670.5l1.4 -3.1" stroke="#d8d040" stroke-width="1"/><path d="M611.0 670.5l0.4 -4.5" stroke="#9cc83a" stroke-width="1"/><path d="M611.4 670.5l-1.3 -3.4" stroke="#c8d83a" stroke-width="1"/><path d="M610.8 670.5l-0.5 -6.0" stroke="#c8d83a" stroke-width="1"/><path d="M724.8 670.5l-0.6 -5.6" stroke="#c8d83a" stroke-width="1"/><path d="M728.3 670.5l0.3 -5.6" stroke="#c8d83a" stroke-width="1"/><path d="M728.3 670.5l0.2 -3.8" stroke="#d8d040" stroke-width="1"/><path d="M735.1 670.5l1.5 -3.5" stroke="#9cc83a" stroke-width="1"/><path d="M732.0 670.5l1.3 -2.8" stroke="#c8d83a" stroke-width="1"/><path d="M735.4 670.5l-1.0 -3.5" stroke="#d8d040" stroke-width="1"/><path d="M735.7 670.5l-0.4 -5.5" stroke="#d8d040" stroke-width="1"/><path d="M736.2 670.5l-0.1 -5.5" stroke="#8cc040" stroke-width="1"/><path d="M738.1 670.5l0.4 -4.8" stroke="#c8d83a" stroke-width="1"/><path d="M908.2 670.5l0.4 -4.3" stroke="#8cc040" stroke-width="1"/><path d="M907.1 670.5l1.4 -5.8" stroke="#8cc040" stroke-width="1"/><path d="M906.1 670.5l0.9 -4.4" stroke="#c8d83a" stroke-width="1"/><path d="M914.4 670.5l0.3 -3.6" stroke="#8cc040" stroke-width="1"/><path d="M912.7 670.5l-0.1 -2.7" stroke="#d8d040" stroke-width="1"/><path d="M912.9 670.5l0.7 -3.7" stroke="#d8d040" stroke-width="1"/><path d="M948.6 670.5l1.4 -2.7" stroke="#c8d83a" stroke-width="1"/><path d="M949.8 670.5l-1.0 -4.1" stroke="#d8d040" stroke-width="1"/><path d="M949.4 670.5l-0.6 -5.2" stroke="#d8d040" stroke-width="1"/></g>
<path d="M936 752c2-4 4-9 5-12c1 3-1 7-3 9c3-1 4 2 1 4c-2 1-4 0-5-1M945 741l4-4l-1 11" stroke="#b8bcc0" stroke-width="0.9" fill="none" opacity="0.7"/>
<path d="M178.6 56.5V171" stroke="#000" fill="none" stroke-width="2"/>
<path d="M813.7 56.5V172" stroke="#000" fill="none" stroke-width="2.5"/>
<path d="M178.6 77.4H813M200.5 69L179.2 77.4L200.5 86M791 69L812.6 77.4L791 86" stroke="#000" fill="none" stroke-width="2.3" stroke-linejoin="miter"/>
<path d="M426.5 146.5H303.8L144 262" stroke="#000" fill="none" stroke-width="2.3"/>
<path d="M611.6 127.3H782.5L826 164" stroke="#000" fill="none" stroke-width="2.3"/>
<path d="M740.6 179.4H571.5L497 213.5" stroke="#000" fill="none" stroke-width="2.3"/>
<path d="M735.6 343.6H590.8L508 281.5" stroke="#000" fill="none" stroke-width="2.3"/>
<path d="M728 568.8H558.8L471.3 614M563.5 568.8L505.6 614" stroke="#000" fill="none" stroke-width="2.1"/>
<path d="M578.4 655.8H748L845 614.5" stroke="#000" fill="none" stroke-width="2.3"/>
<path d="M753.8 199.8H782M767.3 200V670.5M759.8 221L767.3 200.5L775.6 221M759.6 651L767.3 670.5L776.5 651" stroke="#000" fill="none" stroke-width="2.2"/>
<path d="M931 190.3H1023M1007.2 190.5V673.5M1000 212.5L1007.2 191L1015.5 212.5" stroke="#000" fill="none" stroke-width="2.4"/>
<circle cx="471.3" cy="614.8" r="3.3" fill="#fff"/><circle cx="505.6" cy="614.8" r="3.3" fill="#fff"/>
<path d="M1007.2 673.5V1001.5" stroke="#f4f4f4" stroke-width="2.7" fill="none"/>
<path d="M998 979.3L1007 1001.5L1015 979.3" stroke="#fff" fill="none" stroke-width="2.6"/>
<path d="M73 672.5V826M66 684L73 706L82.3 684M66 802.5L73 779L82 802.5" stroke="#fff" fill="none" stroke-width="2.8"/>
<path d="M0 878.5H192.5M76 870.5L95 878.5L76 886.8M184 870.5L165 878.5L184 887" stroke="#fff" fill="none" stroke-width="2.3"/>
<path d="M308.8 907H198.6L165 935.5" stroke="#fff" fill="none" stroke-width="1.8"/>
<path d="M71.3 940.5V1024M63.8 954L71.3 976.5L80 954M58.8 976.8H93.8M58 1000.5H93.5M63.8 1024L71.3 1001L80 1024" stroke="#fff" fill="none" stroke-width="2.4"/>
<path d="M336 840.6H542.2L572 762.5" stroke="#fff" fill="none" stroke-width="1.7"/>
<path d="M583 960.3H720.6L783 798.4M720.6 960.3L829 989" stroke="#fff" fill="none" stroke-width="2.2"/>
<path d="M811.6 740V883.5M803.5 755L811.6 777.3L820 755M803.5 828L811.6 803.2L820.5 828" stroke="#fff" fill="none" stroke-width="2.4"/>
<path d="M929.5 707.5V940.5M921.8 730L929.5 708L938.5 730M921.8 918L929.5 940L938.5 918M875.5 940.5H935.5" stroke="#fff" fill="none" stroke-width="2.8"/>
<path d="M974.3 711V1001.5M966.8 735L974.3 711.5L983 735M966.3 978L974.3 1001L983.5 978M896.8 1001.8H1021.8" stroke="#fff" fill="none" stroke-width="2.8"/>
<g font-family='"Liberation Sans", Arial, sans-serif'>
<text x="428.7" y="67" font-size="24.5" fill="#000" text-anchor="start" >2500-3000</text>
<text x="321.8" y="138" font-size="29.2" fill="#000" text-anchor="start" >Столб</text>
<text x="304.3" y="175.3" font-size="24.5" fill="#000" text-anchor="start" >60x60x2,0</text>
<text x="615.8" y="116.2" font-size="29.2" fill="#000" text-anchor="start" >Наконечник</text>
<text x="579.2" y="170" font-size="29.2" fill="#000" text-anchor="start" >Штакетник</text>
<text x="604.9" y="330.5" font-size="29.3" fill="#000" text-anchor="start" >Профиль</text>
<text x="610.5" y="365.6" font-size="24.4" fill="#000" text-anchor="start" >20x20x1,5</text>
<text x="568.5" y="558.8" font-size="29.3" fill="#4a4242" text-anchor="start" >Саморезы</text>
<text x="583.3" y="592" font-size="24.3" fill="#2a2a2a" text-anchor="start" >4,8x19мм</text>
<text x="591.7" y="645.3" font-size="29" fill="#000" text-anchor="start" >Сварка</text>
<text transform="translate(744.6 460.7) rotate(-90)" font-size="24.4" fill="#000" text-anchor="middle" y="8.74">1500 - 2500</text>
<text transform="translate(990 486.6) rotate(-90)" font-size="24.5" fill="#000" text-anchor="middle" y="8.77">2500 - 3700</text>
<text x="216.3" y="895.6" font-size="29.6" fill="#fff" text-anchor="start" >Бетон</text>
<text x="342.4" y="833.5" font-size="29.2" fill="#fff" text-anchor="start" >Армобетонная</text>
<text x="402.8" y="860" font-size="28.6" fill="#fff" text-anchor="start" >лента</text>
<text x="586.4" y="953" font-size="29.5" fill="#fff" text-anchor="start" >Песчаная</text>
<text x="596" y="981" font-size="29" fill="#fff" text-anchor="start" >подушка</text>
<text x="393.8" y="986" font-size="43.8" fill="#fff" text-anchor="start" >Грунт</text>
<text x="2" y="865.5" font-size="24.5" fill="#fff" text-anchor="start" >200-300</text>
<text x="6.5" y="715.5" font-size="25" fill="#e4b82c" text-anchor="start" stroke="#e4b82c" stroke-width="0.6">0</text>
<text transform="translate(55 740.5) rotate(-90)" font-size="24.4" fill="#fff" text-anchor="middle" y="8.74">625</text>
<text transform="translate(45.8 953.6) rotate(-90)" font-size="23.6" fill="#fff" text-anchor="middle" y="8.45">100</text>
<text transform="translate(796 858.5) rotate(-90)" font-size="23.6" fill="#fff" text-anchor="middle" y="8.45">100</text>
<text transform="translate(913 863) rotate(-90)" font-size="24" fill="#fff" text-anchor="middle" y="8.59">500-1000</text>
<text transform="translate(958.4 890) rotate(-90)" font-size="24.3" fill="#fff" text-anchor="middle" y="8.70">1000-1200</text>
<g font-weight="bold" font-size="61" fill="#e6e6e6" stroke="#e6e6e6" stroke-width="0.7" opacity="0.5">
<text transform="translate(200.8 946.7) rotate(-90)">zaborservis.ru</text>
<text transform="translate(200.8 473.2) rotate(-90)">zaborservis.ru</text>
<text transform="translate(207.3 508) rotate(-90)" font-size="28">*</text>
</g>
<use href="#logo" fill="#e02424"/>
<g font-weight="bold" font-size="14.6" fill="#0c0606" stroke="#0c0606" stroke-width="0.5">
<text x="888.6" y="67.5" textLength="55.4" lengthAdjust="spacingAndGlyphs">ЗАБОР</text>
<text x="920.6" y="79.9" textLength="66.1" lengthAdjust="spacingAndGlyphs">СЕРВИС</text>
</g>
</g></svg></body></html>
